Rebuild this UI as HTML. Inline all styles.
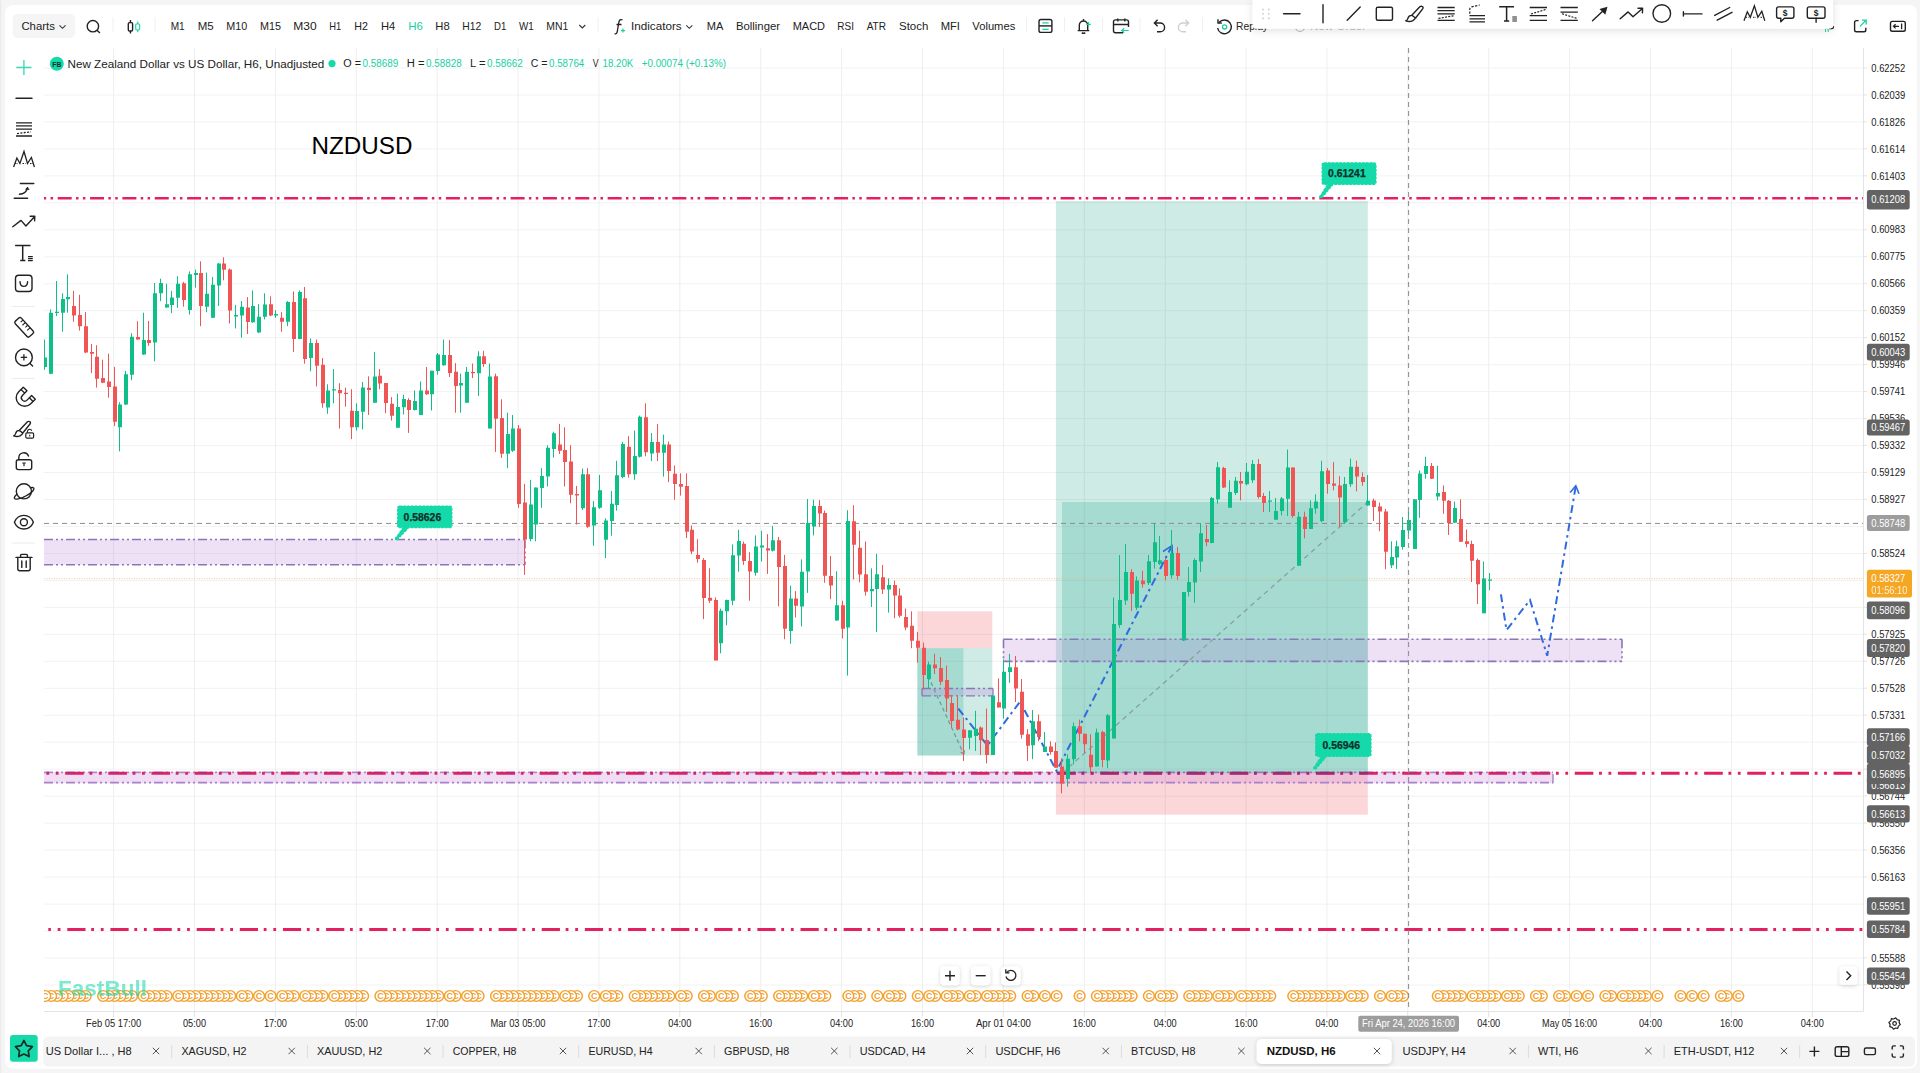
<!DOCTYPE html>
<html lang="en"><head><meta charset="utf-8"><title>NZDUSD, H6 - Charts</title>
<style>
html,body{margin:0;padding:0;background:#f5f5f5;}
body{width:1920px;height:1073px;overflow:hidden;font-family:"Liberation Sans",Arial,sans-serif;}
svg{display:block;position:absolute;left:0;top:0;}
text{white-space:pre;}
</style></head><body>
<svg width="1920" height="1073" viewBox="0 0 1920 1073" font-family='"Liberation Sans", Arial, sans-serif'>
<defs>
<filter id="sh" x="-20%" y="-20%" width="140%" height="160%"><feDropShadow dx="0" dy="1" stdDeviation="2" flood-color="#000" flood-opacity="0.18"/></filter>
<filter id="sh2" x="-5%" y="-30%" width="110%" height="200%"><feDropShadow dx="0" dy="2" stdDeviation="4" flood-color="#000" flood-opacity="0.12"/></filter>
<clipPath id="cc"><rect x="44" y="48" width="1819.5" height="963"/></clipPath>
</defs>
<rect width="1920" height="1073" fill="#f5f5f5"/>
<rect x="0" y="0" width="1.2" height="1073" fill="#ebebeb"/>
<rect x="5" y="5" width="1912" height="1063.7" rx="8" fill="#fff"/>
<g clip-path="url(#cc)">
<line x1="44" x2="1863" y1="68.0" y2="68.0" stroke="#f2f2f2" stroke-width="1"/>
<line x1="44" x2="1863" y1="95.0" y2="95.0" stroke="#f2f2f2" stroke-width="1"/>
<line x1="44" x2="1863" y1="121.9" y2="121.9" stroke="#f2f2f2" stroke-width="1"/>
<line x1="44" x2="1863" y1="148.9" y2="148.9" stroke="#f2f2f2" stroke-width="1"/>
<line x1="44" x2="1863" y1="175.9" y2="175.9" stroke="#f2f2f2" stroke-width="1"/>
<line x1="44" x2="1863" y1="202.8" y2="202.8" stroke="#f2f2f2" stroke-width="1"/>
<line x1="44" x2="1863" y1="229.8" y2="229.8" stroke="#f2f2f2" stroke-width="1"/>
<line x1="44" x2="1863" y1="256.8" y2="256.8" stroke="#f2f2f2" stroke-width="1"/>
<line x1="44" x2="1863" y1="283.8" y2="283.8" stroke="#f2f2f2" stroke-width="1"/>
<line x1="44" x2="1863" y1="310.7" y2="310.7" stroke="#f2f2f2" stroke-width="1"/>
<line x1="44" x2="1863" y1="337.7" y2="337.7" stroke="#f2f2f2" stroke-width="1"/>
<line x1="44" x2="1863" y1="364.7" y2="364.7" stroke="#f2f2f2" stroke-width="1"/>
<line x1="44" x2="1863" y1="391.6" y2="391.6" stroke="#f2f2f2" stroke-width="1"/>
<line x1="44" x2="1863" y1="418.6" y2="418.6" stroke="#f2f2f2" stroke-width="1"/>
<line x1="44" x2="1863" y1="445.6" y2="445.6" stroke="#f2f2f2" stroke-width="1"/>
<line x1="44" x2="1863" y1="472.5" y2="472.5" stroke="#f2f2f2" stroke-width="1"/>
<line x1="44" x2="1863" y1="499.5" y2="499.5" stroke="#f2f2f2" stroke-width="1"/>
<line x1="44" x2="1863" y1="526.5" y2="526.5" stroke="#f2f2f2" stroke-width="1"/>
<line x1="44" x2="1863" y1="553.5" y2="553.5" stroke="#f2f2f2" stroke-width="1"/>
<line x1="44" x2="1863" y1="580.4" y2="580.4" stroke="#f2f2f2" stroke-width="1"/>
<line x1="44" x2="1863" y1="607.4" y2="607.4" stroke="#f2f2f2" stroke-width="1"/>
<line x1="44" x2="1863" y1="634.4" y2="634.4" stroke="#f2f2f2" stroke-width="1"/>
<line x1="44" x2="1863" y1="661.3" y2="661.3" stroke="#f2f2f2" stroke-width="1"/>
<line x1="44" x2="1863" y1="688.3" y2="688.3" stroke="#f2f2f2" stroke-width="1"/>
<line x1="44" x2="1863" y1="715.3" y2="715.3" stroke="#f2f2f2" stroke-width="1"/>
<line x1="44" x2="1863" y1="742.2" y2="742.2" stroke="#f2f2f2" stroke-width="1"/>
<line x1="44" x2="1863" y1="769.2" y2="769.2" stroke="#f2f2f2" stroke-width="1"/>
<line x1="44" x2="1863" y1="796.2" y2="796.2" stroke="#f2f2f2" stroke-width="1"/>
<line x1="44" x2="1863" y1="823.2" y2="823.2" stroke="#f2f2f2" stroke-width="1"/>
<line x1="44" x2="1863" y1="850.1" y2="850.1" stroke="#f2f2f2" stroke-width="1"/>
<line x1="44" x2="1863" y1="877.1" y2="877.1" stroke="#f2f2f2" stroke-width="1"/>
<line x1="44" x2="1863" y1="904.1" y2="904.1" stroke="#f2f2f2" stroke-width="1"/>
<line x1="44" x2="1863" y1="931.0" y2="931.0" stroke="#f2f2f2" stroke-width="1"/>
<line x1="44" x2="1863" y1="958.0" y2="958.0" stroke="#f2f2f2" stroke-width="1"/>
<line x1="44" x2="1863" y1="985.0" y2="985.0" stroke="#f2f2f2" stroke-width="1"/>
<line x1="44" x2="1863" y1="1011.9" y2="1011.9" stroke="#f2f2f2" stroke-width="1"/>
<line x1="113.6" x2="113.6" y1="48" y2="1011" stroke="#eeeeee" stroke-width="1"/>
<line x1="194.5" x2="194.5" y1="48" y2="1011" stroke="#eeeeee" stroke-width="1"/>
<line x1="275.4" x2="275.4" y1="48" y2="1011" stroke="#eeeeee" stroke-width="1"/>
<line x1="356.3" x2="356.3" y1="48" y2="1011" stroke="#eeeeee" stroke-width="1"/>
<line x1="437.2" x2="437.2" y1="48" y2="1011" stroke="#eeeeee" stroke-width="1"/>
<line x1="518.0" x2="518.0" y1="48" y2="1011" stroke="#eeeeee" stroke-width="1"/>
<line x1="598.9" x2="598.9" y1="48" y2="1011" stroke="#eeeeee" stroke-width="1"/>
<line x1="679.8" x2="679.8" y1="48" y2="1011" stroke="#eeeeee" stroke-width="1"/>
<line x1="760.7" x2="760.7" y1="48" y2="1011" stroke="#eeeeee" stroke-width="1"/>
<line x1="841.6" x2="841.6" y1="48" y2="1011" stroke="#eeeeee" stroke-width="1"/>
<line x1="922.5" x2="922.5" y1="48" y2="1011" stroke="#eeeeee" stroke-width="1"/>
<line x1="1003.4" x2="1003.4" y1="48" y2="1011" stroke="#eeeeee" stroke-width="1"/>
<line x1="1084.3" x2="1084.3" y1="48" y2="1011" stroke="#eeeeee" stroke-width="1"/>
<line x1="1165.2" x2="1165.2" y1="48" y2="1011" stroke="#eeeeee" stroke-width="1"/>
<line x1="1246.1" x2="1246.1" y1="48" y2="1011" stroke="#eeeeee" stroke-width="1"/>
<line x1="1326.9" x2="1326.9" y1="48" y2="1011" stroke="#eeeeee" stroke-width="1"/>
<line x1="1407.8" x2="1407.8" y1="48" y2="1011" stroke="#eeeeee" stroke-width="1"/>
<line x1="1488.7" x2="1488.7" y1="48" y2="1011" stroke="#eeeeee" stroke-width="1"/>
<line x1="1569.6" x2="1569.6" y1="48" y2="1011" stroke="#eeeeee" stroke-width="1"/>
<line x1="1650.5" x2="1650.5" y1="48" y2="1011" stroke="#eeeeee" stroke-width="1"/>
<line x1="1731.4" x2="1731.4" y1="48" y2="1011" stroke="#eeeeee" stroke-width="1"/>
<line x1="1812.3" x2="1812.3" y1="48" y2="1011" stroke="#eeeeee" stroke-width="1"/>
<rect x="1055.9" y="201" width="311.9" height="572.3" fill="rgba(8,153,129,0.2)"/>
<rect x="1062" y="502" width="305.8" height="271.3" fill="rgba(8,153,129,0.2)"/>
<rect x="1055.9" y="773.3" width="311.9" height="41.4" fill="rgba(242,54,69,0.2)"/>
<rect x="917.4" y="611.3" width="74.9" height="36.9" fill="rgba(242,54,69,0.2)"/>
<rect x="917.4" y="648.2" width="74.9" height="107.3" fill="rgba(8,153,129,0.2)"/>
<rect x="917.4" y="648.2" width="46" height="107.3" fill="rgba(8,153,129,0.2)"/>
<rect x="44" y="539.5" width="481.0" height="25.3" fill="rgba(178,120,214,0.22)"/>
<path d="M44 539.5H525M44 564.8H525M525 539.5V564.8" stroke="#8b76b8" stroke-width="1.6" fill="none" stroke-dasharray="9 3 2 3 2 3"/>
<rect x="1003.5" y="639.2" width="618.5" height="22.2" fill="rgba(178,120,214,0.22)"/>
<path d="M1003.5 639.2H1622M1003.5 661.4H1622M1003.5 639.2V661.4M1622 639.2V661.4" stroke="#8b76b8" stroke-width="1.6" fill="none" stroke-dasharray="9 3 2 3 2 3"/>
<rect x="922" y="688.5" width="71.0" height="7.3" fill="rgba(178,120,214,0.22)"/>
<path d="M922 688.5H993M922 695.8H993M922 688.5V695.8M993 688.5V695.8" stroke="#8b76b8" stroke-width="1.3" fill="none" stroke-dasharray="9 3 2 3 2 3"/>
<rect x="44" y="771.8" width="1509" height="11.4" fill="rgba(200,120,210,0.25)"/>
<path d="M44 782.6H1553" stroke="#a882cc" stroke-width="1.6" fill="none" stroke-dasharray="9 3 2 3 2 3"/>
<path d="M1553 774V783.3" stroke="#9a86c0" stroke-width="1.4" fill="none"/>
<path d="M1062 773.3L1367.8 502" stroke="#86a29c" stroke-width="1.3" fill="none" stroke-dasharray="5 4"/>
<path d="M928 676L963.9 754.4M963.9 754.4l-5.5-4M963.9 754.4l0.8-6.5" stroke="#7b9892" stroke-width="1.3" fill="none" stroke-dasharray="4 3"/>
<path d="M44 198.3H1863" stroke="#e3215f" stroke-width="2.6" stroke-dasharray="14 4.3 2.5 4.4 2.5 4.65" stroke-dashoffset="18.65" fill="none"/>
<path d="M44.4 773.2H1863" stroke="#e3215f" stroke-width="3" stroke-dasharray="18.6 5.7 2.8 6.6 2.8 6.63" stroke-dashoffset="22.33" fill="none"/>
<path d="M48.3 929.5H1863" stroke="#e3215f" stroke-width="3" stroke-dasharray="18.2 5.7 2.8 6.8 2.8 6.83" stroke-dashoffset="24.13" fill="none"/>
<path d="M44 772.4H1553" stroke="#7d3fa8" stroke-width="1.8" fill="none" stroke-dasharray="9 3 2 3 2 3" opacity="0.55"/>
<path d="M1056 773.3H1367.8" stroke="#4a3a7a" stroke-width="3" fill="none" stroke-dasharray="18.6 5.7 2.8 6.6 2.8 6.63" stroke-dashoffset="41.94" opacity="0.4"/>
<path d="M44 523.4H1863" stroke="#8c8c8c" stroke-width="1" stroke-dasharray="5 4" fill="none"/>
<path d="M44 578.6H1863" stroke="#f5b95a" stroke-width="1" stroke-dasharray="1 1.5" fill="none" opacity="0.7"/>
<path d="M958.3 708.6L987.4 745.5L1020 701.7L1056.6 771L1172 545.7" stroke="#2f6be0" stroke-width="2" fill="none" stroke-dasharray="8 4 2.5 4"/>
<path d="M1163 551.5L1172 545.7L1172.5 556.5" stroke="#2f6be0" stroke-width="1.6" fill="none"/>
<path d="M1500.9 594.3L1506.5 630L1530 600L1547.2 655.8L1575.8 485.8" stroke="#2f6be0" stroke-width="2" fill="none" stroke-dasharray="8 4 2.5 4"/>
<path d="M1570.2 492.5L1575.8 485.8L1579 493.7" stroke="#2f6be0" stroke-width="1.6" fill="none"/>
<path d="M44.5 339.6V369.8M50.5 309.4V374.2M56.5 281.0V316.1M62.5 293.3V331.7M67.5 274.3V312.7M119.5 402.2V451.4M125.5 370.9V405.1M131.5 333.3V380.3M143.5 312.7V354.8M154.5 283.0V361.3M160.5 278.7V301.1M166.5 283.7V307.8M171.5 290.8V313.2M177.5 276.3V307.8M189.5 271.4V314.5M195.5 269.6V287.7M206.5 272.5V312.3M212.5 277.0V317.9M218.5 263.1V306.0M235.5 304.9V328.4M241.5 301.1V337.8M252.5 290.4V322.8M258.5 304.2V332.9M264.5 293.3V319.4M275.5 310.1V317.9M287.5 301.1V326.2M299.5 290.4V339.1M310.5 338.5V371.3M327.5 384.3V413.8M333.5 369.1V403.3M356.5 403.3V430.6M362.5 381.9V429.5M374.5 351.9V402.7M397.5 393.7V427.7M403.5 394.8V414.5M414.5 390.4V410.5M420.5 381.4V415.0M431.5 370.7V410.5M437.5 353.0V374.7M443.5 339.6V365.8M460.5 373.6V412.7M466.5 366.9V402.7M478.5 351.2V396.0M489.5 363.5V428.4M507.5 412.7V468.2M512.5 415.0V451.9M530.5 479.8V541.3M535.5 487.6V541.3M541.5 468.2V507.8M547.5 445.2V486.5M553.5 431.7V457.5M582.5 468.6V510.0M593.5 501.1V545.8M599.5 474.9V508.9M605.5 518.3V558.1M611.5 491.0V535.7M616.5 460.8V510.7M622.5 441.8V478.3M634.5 430.6V479.8M639.5 415.6V457.5M651.5 433.0V461.0M663.5 434.6V476.6M720.5 608.6V653.3M726.5 599.6V625.3M732.5 544.4V605.2M738.5 529.8V571.7M755.5 535.4V575.7M761.5 530.7V561.6M772.5 525.8V551.5M790.5 585.7V643.7M801.5 559.4V626.4M807.5 499.0V592.9M813.5 499.7V535.4M836.5 571.2V620.8M847.5 510.2V675.6M871.5 568.3V607.0M876.5 553.8V632.0M888.5 578.4V612.6M928.5 661.6V688.5M969.5 730.3V749.3M975.5 710.8V751.0M992.5 695.2V754.9M1003.5 659.4V718.6M1009.5 653.8V682.9M1032.5 710.0V759.2M1044.5 732.0V752.0M1067.5 754.3V786.7M1073.5 722.5V764.4M1096.5 728.6V766.6M1107.5 714.0V768.2M1113.5 597.6V738.6M1119.5 555.0V627.8M1125.5 544.0V605.0M1136.5 576.4V610.0M1148.5 555.0V585.0M1154.5 523.2V568.6M1159.5 536.0V565.0M1171.5 530.0V578.6M1183.5 592.0V641.0M1188.5 567.0V596.5M1194.5 558.5V602.8M1200.5 523.2V572.0M1211.5 497.0V543.3M1217.5 462.0V503.7M1229.5 480.3V508.0M1235.5 477.0V495.0M1246.5 463.0V485.4M1252.5 460.0V483.0M1269.5 491.0V512.0M1275.5 498.0V519.8M1281.5 497.0V515.4M1287.5 449.6V516.0M1298.5 512.0V565.7M1310.5 500.4V529.0M1315.5 494.3V513.8M1321.5 460.8V522.3M1344.5 477.0V523.9M1350.5 458.6V487.0M1367.5 475.0V505.5M1391.5 541.3V568.0M1396.5 540.6V569.0M1402.5 517.0V549.6M1408.5 512.0V534.0M1414.5 499.3V549.0M1419.5 470.6V517.8M1425.5 456.8V478.7M1437.5 465.7V500.4M1454.5 501.5V523.0M1483.5 561.4V613.3M1489.5 573.0V590.3" stroke="#10bf87" stroke-width="1" fill="none"/>
<path d="M73.5 290.8V321.7M79.5 294.8V330.6M85.5 312.1V353.0M91.5 344.0V373.1M96.5 345.2V387.6M102.5 359.7V383.2M108.5 353.7V397.7M114.5 366.9V426.1M137.5 321.2V339.6M148.5 321.0V345.8M183.5 281.9V306.7M200.5 261.3V326.2M223.5 257.3V280.3M229.5 268.5V323.5M247.5 297.1V334.0M270.5 296.4V316.1M281.5 312.1V331.7M293.5 291.5V351.9M304.5 287.0V363.7M316.5 339.6V386.5M322.5 358.1V407.8M339.5 383.2V428.6M345.5 387.6V406.7M351.5 389.2V439.1M368.5 376.3V415.0M379.5 369.1V389.3M385.5 383.0V413.2M391.5 397.1V420.6M408.5 398.2V432.9M426.5 366.9V394.8M449.5 340.1V377.0M455.5 363.1V412.7M472.5 363.5V378.1M483.5 350.8V366.9M495.5 373.6V451.9M501.5 399.3V457.9M518.5 425.0V507.8M524.5 483.8V574.9M559.5 423.9V454.1M564.5 427.3V486.5M570.5 445.2V503.3M576.5 485.9V524.5M587.5 468.2V527.9M628.5 436.2V477.6M645.5 403.3V456.3M657.5 424.1V461.0M668.5 441.5V482.2M674.5 465.4V499.7M680.5 473.3V495.6M686.5 473.3V538.1M691.5 525.4V554.2M697.5 539.2V562.7M703.5 558.2V619.1M709.5 568.3V603.0M715.5 597.4V660.4M743.5 541.5V564.9M749.5 552.2V600.7M767.5 534.1V573.9M778.5 537.0V606.3M784.5 554.9V639.2M795.5 591.1V617.5M819.5 500.1V526.9M824.5 510.6V582.8M830.5 556.0V599.2M842.5 600.7V638.5M853.5 505.2V579.5M859.5 530.7V582.4M865.5 541.5V595.6M882.5 564.9V594.0M894.5 580.6V618.2M899.5 588.4V617.5M905.5 608.6V630.2M911.5 611.3V648.2M917.5 631.9V662.7M923.5 642.6V689.6M934.5 653.8V674.0M940.5 657.0V685.0M946.5 665.6V712.0M951.5 695.0V727.6M957.5 696.3V730.3M963.5 717.5V761.0M980.5 726.5V755.0M986.5 708.6V763.4M998.5 678.4V707.5M1015.5 656.0V702.0M1021.5 679.0V738.6M1027.5 729.2V761.0M1038.5 714.5V741.3M1050.5 741.3V754.7M1055.5 742.4V767.7M1061.5 758.3V793.4M1079.5 719.6V741.3M1084.5 733.7V753.2M1090.5 734.2V774.4M1102.5 730.8V767.3M1131.5 569.0V611.0M1142.5 570.8V587.6M1165.5 558.5V580.4M1177.5 547.0V579.8M1206.5 525.0V546.2M1223.5 466.8V488.0M1240.5 472.0V500.4M1258.5 459.0V498.6M1263.5 493.0V512.0M1292.5 467.5V517.8M1304.5 511.6V538.4M1327.5 468.0V493.7M1333.5 462.0V490.3M1339.5 476.2V526.8M1356.5 460.6V491.4M1362.5 472.4V485.8M1373.5 498.6V521.0M1379.5 502.6V531.2M1385.5 508.9V569.2M1431.5 463.0V479.0M1443.5 485.4V513.8M1448.5 500.0V535.0M1460.5 499.3V542.0M1466.5 529.4V547.3M1471.5 540.6V582.0M1477.5 558.5V604.0" stroke="#f05555" stroke-width="1" fill="none"/>
<path d="M43 357.5h4v9.4h-4zM49 312.7h4v61.0h-4zM55 311.8h4v1.3h-4zM61 298.9h4v13.9h-4zM66 297.1h4v2.2h-4zM118 404.4h4v22.8h-4zM124 374.2h4v30.2h-4zM130 336.7h4v38.0h-4zM142 340.0h4v14.5h-4zM153 293.3h4v49.2h-4zM159 283.0h4v10.3h-4zM165 304.2h4v3.4h-4zM170 297.5h4v7.4h-4zM176 283.7h4v14.1h-4zM188 274.3h4v35.8h-4zM194 272.9h4v2.2h-4zM205 293.7h4v13.0h-4zM211 284.8h4v32.9h-4zM217 263.5h4v21.9h-4zM234 315.0h4v1.6h-4zM240 306.7h4v8.9h-4zM251 306.0h4v16.3h-4zM257 316.8h4v15.7h-4zM263 304.5h4v12.3h-4zM274 313.9h4v1.6h-4zM286 302.0h4v19.7h-4zM298 291.9h4v47.0h-4zM309 342.9h4v15.0h-4zM326 390.6h4v16.8h-4zM332 389.2h4v1.3h-4zM355 411.1h4v16.1h-4zM361 387.5h4v24.2h-4zM373 376.5h4v26.2h-4zM396 407.1h4v20.6h-4zM402 398.9h4v8.3h-4zM413 401.1h4v8.9h-4zM419 390.4h4v24.6h-4zM430 370.7h4v23.5h-4zM436 354.6h4v16.3h-4zM442 355.0h4v10.3h-4zM459 383.0h4v2.5h-4zM465 371.8h4v30.9h-4zM477 356.2h4v17.0h-4zM488 376.5h4v51.9h-4zM506 434.0h4v19.7h-4zM511 428.4h4v22.4h-4zM529 504.4h4v34.7h-4zM534 487.6h4v36.9h-4zM540 476.0h4v12.1h-4zM546 447.8h4v28.6h-4zM552 433.3h4v15.7h-4zM581 474.2h4v34.0h-4zM592 507.3h4v18.3h-4zM598 490.3h4v17.4h-4zM604 520.5h4v19.2h-4zM610 503.7h4v17.4h-4zM615 475.3h4v29.7h-4zM621 444.0h4v32.9h-4zM633 455.9h4v18.3h-4zM638 416.8h4v40.0h-4zM650 442.0h4v11.6h-4zM662 444.6h4v8.1h-4zM719 610.8h4v32.4h-4zM725 600.1h4v11.2h-4zM731 555.3h4v45.4h-4zM737 541.0h4v14.5h-4zM754 546.4h4v26.4h-4zM760 545.5h4v2.0h-4zM771 540.3h4v10.5h-4zM789 598.5h4v32.4h-4zM800 571.7h4v34.7h-4zM806 523.1h4v48.5h-4zM812 506.1h4v20.3h-4zM835 605.2h4v15.2h-4zM846 520.9h4v106.7h-4zM870 589.1h4v2.2h-4zM875 574.3h4v14.8h-4zM887 585.1h4v4.5h-4zM927 664.5h4v14.5h-4zM968 730.3h4v7.4h-4zM974 728.7h4v7.2h-4zM991 695.6h4v59.3h-4zM1002 671.7h4v36.9h-4zM1008 667.2h4v4.8h-4zM1031 721.2h4v24.1h-4zM1043 746.5h4v5.5h-4zM1066 758.8h4v20.1h-4zM1072 726.3h4v32.9h-4zM1095 732.4h4v34.2h-4zM1106 715.2h4v45.4h-4zM1112 624.0h4v114.6h-4zM1118 599.9h4v25.1h-4zM1124 572.0h4v28.5h-4zM1135 580.4h4v27.3h-4zM1147 561.2h4v21.8h-4zM1153 542.2h4v19.7h-4zM1158 560.3h4v3.7h-4zM1170 553.0h4v22.3h-4zM1182 592.0h4v48.6h-4zM1187 582.0h4v10.0h-4zM1193 560.0h4v22.4h-4zM1199 533.2h4v28.2h-4zM1210 498.0h4v45.0h-4zM1216 467.3h4v32.0h-4zM1228 492.0h4v15.8h-4zM1234 480.7h4v12.3h-4zM1245 471.8h4v12.5h-4zM1251 464.0h4v16.3h-4zM1268 500.4h4v1.4h-4zM1274 511.0h4v8.8h-4zM1280 498.6h4v12.4h-4zM1286 467.5h4v31.3h-4zM1297 516.7h4v49.0h-4zM1309 508.2h4v20.8h-4zM1314 501.5h4v7.1h-4zM1320 471.3h4v49.7h-4zM1343 484.0h4v38.3h-4zM1349 466.8h4v17.5h-4zM1366 500.8h4v4.7h-4zM1390 557.0h4v8.2h-4zM1395 546.2h4v11.2h-4zM1401 530.0h4v16.9h-4zM1407 520.0h4v10.6h-4zM1413 499.3h4v49.7h-4zM1418 473.5h4v26.5h-4zM1424 466.0h4v8.0h-4zM1436 493.0h4v3.6h-4zM1453 508.0h4v14.7h-4zM1482 578.6h4v34.7h-4zM1488 579.5h4v1.2h-4z" fill="#10bf87"/>
<path d="M72 306.0h4v9.6h-4zM78 315.0h4v11.2h-4zM84 326.2h4v26.4h-4zM90 351.9h4v1.8h-4zM95 356.8h4v21.9h-4zM101 378.0h4v4.7h-4zM107 381.4h4v5.6h-4zM113 386.5h4v35.3h-4zM136 336.9h4v2.7h-4zM147 340.0h4v2.9h-4zM182 283.2h4v16.8h-4zM199 272.9h4v33.1h-4zM222 263.5h4v6.3h-4zM228 269.6h4v40.9h-4zM246 307.6h4v14.5h-4zM269 304.2h4v11.4h-4zM280 317.7h4v4.0h-4zM292 302.0h4v36.9h-4zM303 298.2h4v60.8h-4zM315 342.9h4v22.8h-4zM321 364.8h4v38.5h-4zM338 389.9h4v3.4h-4zM344 392.8h4v1.2h-4zM350 410.7h4v16.5h-4zM367 387.7h4v2.2h-4zM378 375.8h4v7.8h-4zM384 383.0h4v20.1h-4zM390 403.8h4v11.9h-4zM407 400.0h4v10.1h-4zM425 390.4h4v3.8h-4zM448 355.0h4v17.9h-4zM454 371.8h4v14.1h-4zM471 372.0h4v1.2h-4zM482 356.2h4v7.8h-4zM494 376.3h4v42.5h-4zM500 417.9h4v35.8h-4zM517 428.4h4v75.6h-4zM523 502.6h4v36.9h-4zM558 444.5h4v6.3h-4zM563 450.1h4v11.9h-4zM569 461.5h4v33.3h-4zM575 493.9h4v1.6h-4zM586 474.2h4v52.5h-4zM627 446.7h4v27.5h-4zM644 417.2h4v35.1h-4zM656 442.0h4v10.7h-4zM667 444.6h4v26.4h-4zM673 473.7h4v10.3h-4zM679 484.0h4v2.7h-4zM685 486.0h4v45.8h-4zM690 529.8h4v21.7h-4zM696 554.9h4v4.0h-4zM702 560.0h4v38.0h-4zM708 597.8h4v2.9h-4zM714 600.1h4v60.4h-4zM742 543.7h4v17.4h-4zM748 560.9h4v10.7h-4zM766 548.2h4v2.2h-4zM777 540.3h4v26.8h-4zM783 566.1h4v62.6h-4zM794 598.5h4v7.2h-4zM818 506.1h4v7.4h-4zM823 513.1h4v62.6h-4zM829 576.1h4v9.4h-4zM841 605.2h4v23.5h-4zM852 521.3h4v23.5h-4zM858 547.7h4v26.8h-4zM864 574.3h4v17.4h-4zM881 577.2h4v12.3h-4zM893 585.1h4v10.5h-4zM898 595.6h4v20.1h-4zM904 617.0h4v10.5h-4zM910 625.8h4v15.0h-4zM916 640.8h4v7.0h-4zM922 647.8h4v27.2h-4zM933 664.5h4v3.8h-4zM939 667.9h4v13.8h-4zM945 680.0h4v18.5h-4zM950 703.0h4v17.9h-4zM956 719.8h4v9.6h-4zM962 729.4h4v8.6h-4zM979 727.6h4v12.7h-4zM985 739.9h4v15.1h-4zM997 702.3h4v5.2h-4zM1014 667.2h4v21.3h-4zM1020 691.7h4v43.1h-4zM1026 734.2h4v11.6h-4zM1037 721.2h4v15.7h-4zM1049 746.5h4v5.5h-4zM1054 751.0h4v16.7h-4zM1060 766.6h4v16.8h-4zM1078 726.3h4v7.4h-4zM1083 733.7h4v10.5h-4zM1089 754.7h4v12.6h-4zM1101 732.0h4v27.9h-4zM1130 572.0h4v21.8h-4zM1141 580.4h4v3.8h-4zM1164 560.0h4v16.0h-4zM1176 553.0h4v23.0h-4zM1205 539.0h4v3.2h-4zM1222 468.0h4v19.6h-4zM1239 481.0h4v2.6h-4zM1257 464.0h4v33.0h-4zM1262 496.0h4v7.0h-4zM1291 467.5h4v48.5h-4zM1303 516.7h4v12.3h-4zM1326 470.6h4v13.4h-4zM1332 483.6h4v2.2h-4zM1338 485.4h4v12.1h-4zM1355 466.8h4v9.6h-4zM1361 476.9h4v5.1h-4zM1372 500.4h4v6.6h-4zM1378 506.6h4v5.0h-4zM1384 511.6h4v40.2h-4zM1430 466.0h4v12.7h-4zM1442 492.0h4v8.8h-4zM1447 500.8h4v22.2h-4zM1459 519.0h4v22.7h-4zM1465 541.3h4v2.7h-4zM1470 544.0h4v16.7h-4zM1476 560.0h4v24.2h-4z" fill="#f05555"/>
<text x="311.5" y="153.7" font-size="24" fill="#000" font-weight="normal" text-anchor="start" textLength="101.0" lengthAdjust="spacingAndGlyphs" >NZDUSD</text>
<path d="M1324.1 162.79999999999998H1374.0Q1376.0 162.79999999999998 1376.0 164.79999999999998V182.4Q1376.0 184.4 1374.0 184.4H1333.1L1321.9 197.6L1319.9 196.4L1327.6 184.4H1324.1Q1322.1 184.4 1322.1 182.4V164.79999999999998Q1322.1 162.79999999999998 1324.1 162.79999999999998Z" fill="#14d9a8" stroke="#14d9a8" stroke-width="1.2" stroke-dasharray="2.6 1.2" stroke-linejoin="round"/>
<rect x="1319.5" y="195.4" width="2.6" height="2.6" fill="#14d9a8"/>
<text x="1328.1" y="177.2" font-size="10.5" fill="#0f2e2a" font-weight="bold" text-anchor="start" textLength="37.6" lengthAdjust="spacingAndGlyphs" stroke="#0f2e2a" stroke-width="0.25">0.61241</text>
<path d="M399.6 506.1H449.9Q451.9 506.1 451.9 508.1V525.6999999999999Q451.9 527.6999999999999 449.9 527.6999999999999H408.6L397.4 539.6L395.4 538.4L403.1 527.6999999999999H399.6Q397.6 527.6999999999999 397.6 525.6999999999999V508.1Q397.6 506.1 399.6 506.1Z" fill="#14d9a8" stroke="#14d9a8" stroke-width="1.2" stroke-dasharray="2.6 1.2" stroke-linejoin="round"/>
<rect x="395" y="537.4" width="2.6" height="2.6" fill="#14d9a8"/>
<text x="403.6" y="520.5" font-size="10.5" fill="#0f2e2a" font-weight="bold" text-anchor="start" textLength="37.6" lengthAdjust="spacingAndGlyphs" stroke="#0f2e2a" stroke-width="0.25">0.58626</text>
<path d="M1317.6 733.5H1369.0Q1371.0 733.5 1371.0 735.5V754.4Q1371.0 756.4 1369.0 756.4H1326.6L1315.8000000000002 769.0L1313.8000000000002 767.8L1321.1 756.4H1317.6Q1315.6 756.4 1315.6 754.4V735.5Q1315.6 733.5 1317.6 733.5Z" fill="#14d9a8" stroke="#14d9a8" stroke-width="1.2" stroke-dasharray="2.6 1.2" stroke-linejoin="round"/>
<rect x="1313.4" y="766.8" width="2.6" height="2.6" fill="#14d9a8"/>
<text x="1322.5" y="748.6" font-size="10.5" fill="#0f2e2a" font-weight="bold" text-anchor="start" textLength="37.6" lengthAdjust="spacingAndGlyphs" stroke="#0f2e2a" stroke-width="0.25">0.56946</text>
<g font-size="9" font-weight="bold" text-anchor="middle" fill="#f3a02c">
<circle cx="1738.3" cy="996" r="5.4" fill="#fff" stroke="#f3a02c" stroke-width="1.45"/><text x="1738.3" y="999.2">C</text>
<circle cx="1726.7" cy="996" r="5.4" fill="#fff" stroke="#f3a02c" stroke-width="1.45"/><text x="1726.7" y="999.2">C</text>
<circle cx="1720.9" cy="996" r="5.4" fill="#fff" stroke="#f3a02c" stroke-width="1.45"/><text x="1720.9" y="999.2">C</text>
<circle cx="1703.6" cy="996" r="5.4" fill="#fff" stroke="#f3a02c" stroke-width="1.45"/><text x="1703.6" y="999.2">C</text>
<circle cx="1692.0" cy="996" r="5.4" fill="#fff" stroke="#f3a02c" stroke-width="1.45"/><text x="1692.0" y="999.2">C</text>
<circle cx="1680.5" cy="996" r="5.4" fill="#fff" stroke="#f3a02c" stroke-width="1.45"/><text x="1680.5" y="999.2">C</text>
<circle cx="1657.4" cy="996" r="5.4" fill="#fff" stroke="#f3a02c" stroke-width="1.45"/><text x="1657.4" y="999.2">C</text>
<circle cx="1645.8" cy="996" r="5.4" fill="#fff" stroke="#f3a02c" stroke-width="1.45"/><text x="1645.8" y="999.2">C</text>
<circle cx="1640.0" cy="996" r="5.4" fill="#fff" stroke="#f3a02c" stroke-width="1.45"/><text x="1640.0" y="999.2">C</text>
<circle cx="1634.2" cy="996" r="5.4" fill="#fff" stroke="#f3a02c" stroke-width="1.45"/><text x="1634.2" y="999.2">C</text>
<circle cx="1628.5" cy="996" r="5.4" fill="#fff" stroke="#f3a02c" stroke-width="1.45"/><text x="1628.5" y="999.2">C</text>
<circle cx="1622.7" cy="996" r="5.4" fill="#fff" stroke="#f3a02c" stroke-width="1.45"/><text x="1622.7" y="999.2">C</text>
<circle cx="1611.1" cy="996" r="5.4" fill="#fff" stroke="#f3a02c" stroke-width="1.45"/><text x="1611.1" y="999.2">C</text>
<circle cx="1605.4" cy="996" r="5.4" fill="#fff" stroke="#f3a02c" stroke-width="1.45"/><text x="1605.4" y="999.2">C</text>
<circle cx="1588.0" cy="996" r="5.4" fill="#fff" stroke="#f3a02c" stroke-width="1.45"/><text x="1588.0" y="999.2">C</text>
<circle cx="1576.5" cy="996" r="5.4" fill="#fff" stroke="#f3a02c" stroke-width="1.45"/><text x="1576.5" y="999.2">C</text>
<circle cx="1564.9" cy="996" r="5.4" fill="#fff" stroke="#f3a02c" stroke-width="1.45"/><text x="1564.9" y="999.2">C</text>
<circle cx="1559.1" cy="996" r="5.4" fill="#fff" stroke="#f3a02c" stroke-width="1.45"/><text x="1559.1" y="999.2">C</text>
<circle cx="1541.8" cy="996" r="5.4" fill="#fff" stroke="#f3a02c" stroke-width="1.45"/><text x="1541.8" y="999.2">C</text>
<circle cx="1536.0" cy="996" r="5.4" fill="#fff" stroke="#f3a02c" stroke-width="1.45"/><text x="1536.0" y="999.2">C</text>
<circle cx="1518.7" cy="996" r="5.4" fill="#fff" stroke="#f3a02c" stroke-width="1.45"/><text x="1518.7" y="999.2">C</text>
<circle cx="1512.9" cy="996" r="5.4" fill="#fff" stroke="#f3a02c" stroke-width="1.45"/><text x="1512.9" y="999.2">C</text>
<circle cx="1507.1" cy="996" r="5.4" fill="#fff" stroke="#f3a02c" stroke-width="1.45"/><text x="1507.1" y="999.2">C</text>
<circle cx="1495.6" cy="996" r="5.4" fill="#fff" stroke="#f3a02c" stroke-width="1.45"/><text x="1495.6" y="999.2">C</text>
<circle cx="1489.8" cy="996" r="5.4" fill="#fff" stroke="#f3a02c" stroke-width="1.45"/><text x="1489.8" y="999.2">C</text>
<circle cx="1484.0" cy="996" r="5.4" fill="#fff" stroke="#f3a02c" stroke-width="1.45"/><text x="1484.0" y="999.2">C</text>
<circle cx="1478.2" cy="996" r="5.4" fill="#fff" stroke="#f3a02c" stroke-width="1.45"/><text x="1478.2" y="999.2">C</text>
<circle cx="1472.5" cy="996" r="5.4" fill="#fff" stroke="#f3a02c" stroke-width="1.45"/><text x="1472.5" y="999.2">C</text>
<circle cx="1460.9" cy="996" r="5.4" fill="#fff" stroke="#f3a02c" stroke-width="1.45"/><text x="1460.9" y="999.2">C</text>
<circle cx="1455.1" cy="996" r="5.4" fill="#fff" stroke="#f3a02c" stroke-width="1.45"/><text x="1455.1" y="999.2">C</text>
<circle cx="1449.4" cy="996" r="5.4" fill="#fff" stroke="#f3a02c" stroke-width="1.45"/><text x="1449.4" y="999.2">C</text>
<circle cx="1443.6" cy="996" r="5.4" fill="#fff" stroke="#f3a02c" stroke-width="1.45"/><text x="1443.6" y="999.2">C</text>
<circle cx="1437.8" cy="996" r="5.4" fill="#fff" stroke="#f3a02c" stroke-width="1.45"/><text x="1437.8" y="999.2">C</text>
<circle cx="1403.1" cy="996" r="5.4" fill="#fff" stroke="#f3a02c" stroke-width="1.45"/><text x="1403.1" y="999.2">C</text>
<circle cx="1397.4" cy="996" r="5.4" fill="#fff" stroke="#f3a02c" stroke-width="1.45"/><text x="1397.4" y="999.2">C</text>
<circle cx="1391.6" cy="996" r="5.4" fill="#fff" stroke="#f3a02c" stroke-width="1.45"/><text x="1391.6" y="999.2">C</text>
<circle cx="1380.0" cy="996" r="5.4" fill="#fff" stroke="#f3a02c" stroke-width="1.45"/><text x="1380.0" y="999.2">C</text>
<circle cx="1362.7" cy="996" r="5.4" fill="#fff" stroke="#f3a02c" stroke-width="1.45"/><text x="1362.7" y="999.2">C</text>
<circle cx="1356.9" cy="996" r="5.4" fill="#fff" stroke="#f3a02c" stroke-width="1.45"/><text x="1356.9" y="999.2">C</text>
<circle cx="1351.1" cy="996" r="5.4" fill="#fff" stroke="#f3a02c" stroke-width="1.45"/><text x="1351.1" y="999.2">C</text>
<circle cx="1339.6" cy="996" r="5.4" fill="#fff" stroke="#f3a02c" stroke-width="1.45"/><text x="1339.6" y="999.2">C</text>
<circle cx="1333.8" cy="996" r="5.4" fill="#fff" stroke="#f3a02c" stroke-width="1.45"/><text x="1333.8" y="999.2">C</text>
<circle cx="1328.0" cy="996" r="5.4" fill="#fff" stroke="#f3a02c" stroke-width="1.45"/><text x="1328.0" y="999.2">C</text>
<circle cx="1322.2" cy="996" r="5.4" fill="#fff" stroke="#f3a02c" stroke-width="1.45"/><text x="1322.2" y="999.2">C</text>
<circle cx="1316.5" cy="996" r="5.4" fill="#fff" stroke="#f3a02c" stroke-width="1.45"/><text x="1316.5" y="999.2">C</text>
<circle cx="1310.7" cy="996" r="5.4" fill="#fff" stroke="#f3a02c" stroke-width="1.45"/><text x="1310.7" y="999.2">C</text>
<circle cx="1304.9" cy="996" r="5.4" fill="#fff" stroke="#f3a02c" stroke-width="1.45"/><text x="1304.9" y="999.2">C</text>
<circle cx="1299.1" cy="996" r="5.4" fill="#fff" stroke="#f3a02c" stroke-width="1.45"/><text x="1299.1" y="999.2">C</text>
<circle cx="1293.3" cy="996" r="5.4" fill="#fff" stroke="#f3a02c" stroke-width="1.45"/><text x="1293.3" y="999.2">C</text>
<circle cx="1270.2" cy="996" r="5.4" fill="#fff" stroke="#f3a02c" stroke-width="1.45"/><text x="1270.2" y="999.2">C</text>
<circle cx="1264.5" cy="996" r="5.4" fill="#fff" stroke="#f3a02c" stroke-width="1.45"/><text x="1264.5" y="999.2">C</text>
<circle cx="1258.7" cy="996" r="5.4" fill="#fff" stroke="#f3a02c" stroke-width="1.45"/><text x="1258.7" y="999.2">C</text>
<circle cx="1252.9" cy="996" r="5.4" fill="#fff" stroke="#f3a02c" stroke-width="1.45"/><text x="1252.9" y="999.2">C</text>
<circle cx="1247.1" cy="996" r="5.4" fill="#fff" stroke="#f3a02c" stroke-width="1.45"/><text x="1247.1" y="999.2">C</text>
<circle cx="1241.3" cy="996" r="5.4" fill="#fff" stroke="#f3a02c" stroke-width="1.45"/><text x="1241.3" y="999.2">C</text>
<circle cx="1229.8" cy="996" r="5.4" fill="#fff" stroke="#f3a02c" stroke-width="1.45"/><text x="1229.8" y="999.2">C</text>
<circle cx="1224.0" cy="996" r="5.4" fill="#fff" stroke="#f3a02c" stroke-width="1.45"/><text x="1224.0" y="999.2">C</text>
<circle cx="1218.2" cy="996" r="5.4" fill="#fff" stroke="#f3a02c" stroke-width="1.45"/><text x="1218.2" y="999.2">C</text>
<circle cx="1206.7" cy="996" r="5.4" fill="#fff" stroke="#f3a02c" stroke-width="1.45"/><text x="1206.7" y="999.2">C</text>
<circle cx="1200.9" cy="996" r="5.4" fill="#fff" stroke="#f3a02c" stroke-width="1.45"/><text x="1200.9" y="999.2">C</text>
<circle cx="1195.1" cy="996" r="5.4" fill="#fff" stroke="#f3a02c" stroke-width="1.45"/><text x="1195.1" y="999.2">C</text>
<circle cx="1189.3" cy="996" r="5.4" fill="#fff" stroke="#f3a02c" stroke-width="1.45"/><text x="1189.3" y="999.2">C</text>
<circle cx="1172.0" cy="996" r="5.4" fill="#fff" stroke="#f3a02c" stroke-width="1.45"/><text x="1172.0" y="999.2">C</text>
<circle cx="1166.2" cy="996" r="5.4" fill="#fff" stroke="#f3a02c" stroke-width="1.45"/><text x="1166.2" y="999.2">C</text>
<circle cx="1160.5" cy="996" r="5.4" fill="#fff" stroke="#f3a02c" stroke-width="1.45"/><text x="1160.5" y="999.2">C</text>
<circle cx="1148.9" cy="996" r="5.4" fill="#fff" stroke="#f3a02c" stroke-width="1.45"/><text x="1148.9" y="999.2">C</text>
<circle cx="1131.6" cy="996" r="5.4" fill="#fff" stroke="#f3a02c" stroke-width="1.45"/><text x="1131.6" y="999.2">C</text>
<circle cx="1125.8" cy="996" r="5.4" fill="#fff" stroke="#f3a02c" stroke-width="1.45"/><text x="1125.8" y="999.2">C</text>
<circle cx="1120.0" cy="996" r="5.4" fill="#fff" stroke="#f3a02c" stroke-width="1.45"/><text x="1120.0" y="999.2">C</text>
<circle cx="1114.2" cy="996" r="5.4" fill="#fff" stroke="#f3a02c" stroke-width="1.45"/><text x="1114.2" y="999.2">C</text>
<circle cx="1108.5" cy="996" r="5.4" fill="#fff" stroke="#f3a02c" stroke-width="1.45"/><text x="1108.5" y="999.2">C</text>
<circle cx="1102.7" cy="996" r="5.4" fill="#fff" stroke="#f3a02c" stroke-width="1.45"/><text x="1102.7" y="999.2">C</text>
<circle cx="1096.9" cy="996" r="5.4" fill="#fff" stroke="#f3a02c" stroke-width="1.45"/><text x="1096.9" y="999.2">C</text>
<circle cx="1079.6" cy="996" r="5.4" fill="#fff" stroke="#f3a02c" stroke-width="1.45"/><text x="1079.6" y="999.2">C</text>
<circle cx="1056.5" cy="996" r="5.4" fill="#fff" stroke="#f3a02c" stroke-width="1.45"/><text x="1056.5" y="999.2">C</text>
<circle cx="1044.9" cy="996" r="5.4" fill="#fff" stroke="#f3a02c" stroke-width="1.45"/><text x="1044.9" y="999.2">C</text>
<circle cx="1033.3" cy="996" r="5.4" fill="#fff" stroke="#f3a02c" stroke-width="1.45"/><text x="1033.3" y="999.2">C</text>
<circle cx="1027.6" cy="996" r="5.4" fill="#fff" stroke="#f3a02c" stroke-width="1.45"/><text x="1027.6" y="999.2">C</text>
<circle cx="1010.2" cy="996" r="5.4" fill="#fff" stroke="#f3a02c" stroke-width="1.45"/><text x="1010.2" y="999.2">C</text>
<circle cx="1004.4" cy="996" r="5.4" fill="#fff" stroke="#f3a02c" stroke-width="1.45"/><text x="1004.4" y="999.2">C</text>
<circle cx="998.7" cy="996" r="5.4" fill="#fff" stroke="#f3a02c" stroke-width="1.45"/><text x="998.7" y="999.2">C</text>
<circle cx="992.9" cy="996" r="5.4" fill="#fff" stroke="#f3a02c" stroke-width="1.45"/><text x="992.9" y="999.2">C</text>
<circle cx="987.1" cy="996" r="5.4" fill="#fff" stroke="#f3a02c" stroke-width="1.45"/><text x="987.1" y="999.2">C</text>
<circle cx="975.6" cy="996" r="5.4" fill="#fff" stroke="#f3a02c" stroke-width="1.45"/><text x="975.6" y="999.2">C</text>
<circle cx="969.8" cy="996" r="5.4" fill="#fff" stroke="#f3a02c" stroke-width="1.45"/><text x="969.8" y="999.2">C</text>
<circle cx="958.2" cy="996" r="5.4" fill="#fff" stroke="#f3a02c" stroke-width="1.45"/><text x="958.2" y="999.2">C</text>
<circle cx="952.4" cy="996" r="5.4" fill="#fff" stroke="#f3a02c" stroke-width="1.45"/><text x="952.4" y="999.2">C</text>
<circle cx="946.7" cy="996" r="5.4" fill="#fff" stroke="#f3a02c" stroke-width="1.45"/><text x="946.7" y="999.2">C</text>
<circle cx="935.1" cy="996" r="5.4" fill="#fff" stroke="#f3a02c" stroke-width="1.45"/><text x="935.1" y="999.2">C</text>
<circle cx="929.3" cy="996" r="5.4" fill="#fff" stroke="#f3a02c" stroke-width="1.45"/><text x="929.3" y="999.2">C</text>
<circle cx="917.8" cy="996" r="5.4" fill="#fff" stroke="#f3a02c" stroke-width="1.45"/><text x="917.8" y="999.2">C</text>
<circle cx="900.4" cy="996" r="5.4" fill="#fff" stroke="#f3a02c" stroke-width="1.45"/><text x="900.4" y="999.2">C</text>
<circle cx="894.7" cy="996" r="5.4" fill="#fff" stroke="#f3a02c" stroke-width="1.45"/><text x="894.7" y="999.2">C</text>
<circle cx="888.9" cy="996" r="5.4" fill="#fff" stroke="#f3a02c" stroke-width="1.45"/><text x="888.9" y="999.2">C</text>
<circle cx="877.3" cy="996" r="5.4" fill="#fff" stroke="#f3a02c" stroke-width="1.45"/><text x="877.3" y="999.2">C</text>
<circle cx="860.0" cy="996" r="5.4" fill="#fff" stroke="#f3a02c" stroke-width="1.45"/><text x="860.0" y="999.2">C</text>
<circle cx="854.2" cy="996" r="5.4" fill="#fff" stroke="#f3a02c" stroke-width="1.45"/><text x="854.2" y="999.2">C</text>
<circle cx="848.4" cy="996" r="5.4" fill="#fff" stroke="#f3a02c" stroke-width="1.45"/><text x="848.4" y="999.2">C</text>
<circle cx="825.3" cy="996" r="5.4" fill="#fff" stroke="#f3a02c" stroke-width="1.45"/><text x="825.3" y="999.2">C</text>
<circle cx="819.6" cy="996" r="5.4" fill="#fff" stroke="#f3a02c" stroke-width="1.45"/><text x="819.6" y="999.2">C</text>
<circle cx="813.8" cy="996" r="5.4" fill="#fff" stroke="#f3a02c" stroke-width="1.45"/><text x="813.8" y="999.2">C</text>
<circle cx="802.2" cy="996" r="5.4" fill="#fff" stroke="#f3a02c" stroke-width="1.45"/><text x="802.2" y="999.2">C</text>
<circle cx="796.4" cy="996" r="5.4" fill="#fff" stroke="#f3a02c" stroke-width="1.45"/><text x="796.4" y="999.2">C</text>
<circle cx="790.7" cy="996" r="5.4" fill="#fff" stroke="#f3a02c" stroke-width="1.45"/><text x="790.7" y="999.2">C</text>
<circle cx="784.9" cy="996" r="5.4" fill="#fff" stroke="#f3a02c" stroke-width="1.45"/><text x="784.9" y="999.2">C</text>
<circle cx="779.1" cy="996" r="5.4" fill="#fff" stroke="#f3a02c" stroke-width="1.45"/><text x="779.1" y="999.2">C</text>
<circle cx="761.8" cy="996" r="5.4" fill="#fff" stroke="#f3a02c" stroke-width="1.45"/><text x="761.8" y="999.2">C</text>
<circle cx="756.0" cy="996" r="5.4" fill="#fff" stroke="#f3a02c" stroke-width="1.45"/><text x="756.0" y="999.2">C</text>
<circle cx="750.2" cy="996" r="5.4" fill="#fff" stroke="#f3a02c" stroke-width="1.45"/><text x="750.2" y="999.2">C</text>
<circle cx="732.9" cy="996" r="5.4" fill="#fff" stroke="#f3a02c" stroke-width="1.45"/><text x="732.9" y="999.2">C</text>
<circle cx="727.1" cy="996" r="5.4" fill="#fff" stroke="#f3a02c" stroke-width="1.45"/><text x="727.1" y="999.2">C</text>
<circle cx="721.3" cy="996" r="5.4" fill="#fff" stroke="#f3a02c" stroke-width="1.45"/><text x="721.3" y="999.2">C</text>
<circle cx="709.8" cy="996" r="5.4" fill="#fff" stroke="#f3a02c" stroke-width="1.45"/><text x="709.8" y="999.2">C</text>
<circle cx="704.0" cy="996" r="5.4" fill="#fff" stroke="#f3a02c" stroke-width="1.45"/><text x="704.0" y="999.2">C</text>
<circle cx="686.7" cy="996" r="5.4" fill="#fff" stroke="#f3a02c" stroke-width="1.45"/><text x="686.7" y="999.2">C</text>
<circle cx="680.9" cy="996" r="5.4" fill="#fff" stroke="#f3a02c" stroke-width="1.45"/><text x="680.9" y="999.2">C</text>
<circle cx="669.3" cy="996" r="5.4" fill="#fff" stroke="#f3a02c" stroke-width="1.45"/><text x="669.3" y="999.2">C</text>
<circle cx="663.5" cy="996" r="5.4" fill="#fff" stroke="#f3a02c" stroke-width="1.45"/><text x="663.5" y="999.2">C</text>
<circle cx="657.8" cy="996" r="5.4" fill="#fff" stroke="#f3a02c" stroke-width="1.45"/><text x="657.8" y="999.2">C</text>
<circle cx="652.0" cy="996" r="5.4" fill="#fff" stroke="#f3a02c" stroke-width="1.45"/><text x="652.0" y="999.2">C</text>
<circle cx="646.2" cy="996" r="5.4" fill="#fff" stroke="#f3a02c" stroke-width="1.45"/><text x="646.2" y="999.2">C</text>
<circle cx="640.4" cy="996" r="5.4" fill="#fff" stroke="#f3a02c" stroke-width="1.45"/><text x="640.4" y="999.2">C</text>
<circle cx="634.7" cy="996" r="5.4" fill="#fff" stroke="#f3a02c" stroke-width="1.45"/><text x="634.7" y="999.2">C</text>
<circle cx="617.3" cy="996" r="5.4" fill="#fff" stroke="#f3a02c" stroke-width="1.45"/><text x="617.3" y="999.2">C</text>
<circle cx="611.5" cy="996" r="5.4" fill="#fff" stroke="#f3a02c" stroke-width="1.45"/><text x="611.5" y="999.2">C</text>
<circle cx="605.8" cy="996" r="5.4" fill="#fff" stroke="#f3a02c" stroke-width="1.45"/><text x="605.8" y="999.2">C</text>
<circle cx="594.2" cy="996" r="5.4" fill="#fff" stroke="#f3a02c" stroke-width="1.45"/><text x="594.2" y="999.2">C</text>
<circle cx="576.9" cy="996" r="5.4" fill="#fff" stroke="#f3a02c" stroke-width="1.45"/><text x="576.9" y="999.2">C</text>
<circle cx="571.1" cy="996" r="5.4" fill="#fff" stroke="#f3a02c" stroke-width="1.45"/><text x="571.1" y="999.2">C</text>
<circle cx="565.3" cy="996" r="5.4" fill="#fff" stroke="#f3a02c" stroke-width="1.45"/><text x="565.3" y="999.2">C</text>
<circle cx="553.8" cy="996" r="5.4" fill="#fff" stroke="#f3a02c" stroke-width="1.45"/><text x="553.8" y="999.2">C</text>
<circle cx="548.0" cy="996" r="5.4" fill="#fff" stroke="#f3a02c" stroke-width="1.45"/><text x="548.0" y="999.2">C</text>
<circle cx="542.2" cy="996" r="5.4" fill="#fff" stroke="#f3a02c" stroke-width="1.45"/><text x="542.2" y="999.2">C</text>
<circle cx="536.4" cy="996" r="5.4" fill="#fff" stroke="#f3a02c" stroke-width="1.45"/><text x="536.4" y="999.2">C</text>
<circle cx="530.7" cy="996" r="5.4" fill="#fff" stroke="#f3a02c" stroke-width="1.45"/><text x="530.7" y="999.2">C</text>
<circle cx="524.9" cy="996" r="5.4" fill="#fff" stroke="#f3a02c" stroke-width="1.45"/><text x="524.9" y="999.2">C</text>
<circle cx="519.1" cy="996" r="5.4" fill="#fff" stroke="#f3a02c" stroke-width="1.45"/><text x="519.1" y="999.2">C</text>
<circle cx="513.3" cy="996" r="5.4" fill="#fff" stroke="#f3a02c" stroke-width="1.45"/><text x="513.3" y="999.2">C</text>
<circle cx="507.5" cy="996" r="5.4" fill="#fff" stroke="#f3a02c" stroke-width="1.45"/><text x="507.5" y="999.2">C</text>
<circle cx="501.8" cy="996" r="5.4" fill="#fff" stroke="#f3a02c" stroke-width="1.45"/><text x="501.8" y="999.2">C</text>
<circle cx="496.0" cy="996" r="5.4" fill="#fff" stroke="#f3a02c" stroke-width="1.45"/><text x="496.0" y="999.2">C</text>
<circle cx="478.6" cy="996" r="5.4" fill="#fff" stroke="#f3a02c" stroke-width="1.45"/><text x="478.6" y="999.2">C</text>
<circle cx="472.9" cy="996" r="5.4" fill="#fff" stroke="#f3a02c" stroke-width="1.45"/><text x="472.9" y="999.2">C</text>
<circle cx="467.1" cy="996" r="5.4" fill="#fff" stroke="#f3a02c" stroke-width="1.45"/><text x="467.1" y="999.2">C</text>
<circle cx="455.5" cy="996" r="5.4" fill="#fff" stroke="#f3a02c" stroke-width="1.45"/><text x="455.5" y="999.2">C</text>
<circle cx="449.8" cy="996" r="5.4" fill="#fff" stroke="#f3a02c" stroke-width="1.45"/><text x="449.8" y="999.2">C</text>
<circle cx="438.2" cy="996" r="5.4" fill="#fff" stroke="#f3a02c" stroke-width="1.45"/><text x="438.2" y="999.2">C</text>
<circle cx="432.4" cy="996" r="5.4" fill="#fff" stroke="#f3a02c" stroke-width="1.45"/><text x="432.4" y="999.2">C</text>
<circle cx="426.6" cy="996" r="5.4" fill="#fff" stroke="#f3a02c" stroke-width="1.45"/><text x="426.6" y="999.2">C</text>
<circle cx="420.9" cy="996" r="5.4" fill="#fff" stroke="#f3a02c" stroke-width="1.45"/><text x="420.9" y="999.2">C</text>
<circle cx="415.1" cy="996" r="5.4" fill="#fff" stroke="#f3a02c" stroke-width="1.45"/><text x="415.1" y="999.2">C</text>
<circle cx="409.3" cy="996" r="5.4" fill="#fff" stroke="#f3a02c" stroke-width="1.45"/><text x="409.3" y="999.2">C</text>
<circle cx="403.5" cy="996" r="5.4" fill="#fff" stroke="#f3a02c" stroke-width="1.45"/><text x="403.5" y="999.2">C</text>
<circle cx="397.8" cy="996" r="5.4" fill="#fff" stroke="#f3a02c" stroke-width="1.45"/><text x="397.8" y="999.2">C</text>
<circle cx="392.0" cy="996" r="5.4" fill="#fff" stroke="#f3a02c" stroke-width="1.45"/><text x="392.0" y="999.2">C</text>
<circle cx="386.2" cy="996" r="5.4" fill="#fff" stroke="#f3a02c" stroke-width="1.45"/><text x="386.2" y="999.2">C</text>
<circle cx="380.4" cy="996" r="5.4" fill="#fff" stroke="#f3a02c" stroke-width="1.45"/><text x="380.4" y="999.2">C</text>
<circle cx="363.1" cy="996" r="5.4" fill="#fff" stroke="#f3a02c" stroke-width="1.45"/><text x="363.1" y="999.2">C</text>
<circle cx="357.3" cy="996" r="5.4" fill="#fff" stroke="#f3a02c" stroke-width="1.45"/><text x="357.3" y="999.2">C</text>
<circle cx="351.5" cy="996" r="5.4" fill="#fff" stroke="#f3a02c" stroke-width="1.45"/><text x="351.5" y="999.2">C</text>
<circle cx="345.8" cy="996" r="5.4" fill="#fff" stroke="#f3a02c" stroke-width="1.45"/><text x="345.8" y="999.2">C</text>
<circle cx="340.0" cy="996" r="5.4" fill="#fff" stroke="#f3a02c" stroke-width="1.45"/><text x="340.0" y="999.2">C</text>
<circle cx="334.2" cy="996" r="5.4" fill="#fff" stroke="#f3a02c" stroke-width="1.45"/><text x="334.2" y="999.2">C</text>
<circle cx="322.6" cy="996" r="5.4" fill="#fff" stroke="#f3a02c" stroke-width="1.45"/><text x="322.6" y="999.2">C</text>
<circle cx="316.9" cy="996" r="5.4" fill="#fff" stroke="#f3a02c" stroke-width="1.45"/><text x="316.9" y="999.2">C</text>
<circle cx="311.1" cy="996" r="5.4" fill="#fff" stroke="#f3a02c" stroke-width="1.45"/><text x="311.1" y="999.2">C</text>
<circle cx="305.3" cy="996" r="5.4" fill="#fff" stroke="#f3a02c" stroke-width="1.45"/><text x="305.3" y="999.2">C</text>
<circle cx="293.8" cy="996" r="5.4" fill="#fff" stroke="#f3a02c" stroke-width="1.45"/><text x="293.8" y="999.2">C</text>
<circle cx="288.0" cy="996" r="5.4" fill="#fff" stroke="#f3a02c" stroke-width="1.45"/><text x="288.0" y="999.2">C</text>
<circle cx="282.2" cy="996" r="5.4" fill="#fff" stroke="#f3a02c" stroke-width="1.45"/><text x="282.2" y="999.2">C</text>
<circle cx="270.6" cy="996" r="5.4" fill="#fff" stroke="#f3a02c" stroke-width="1.45"/><text x="270.6" y="999.2">C</text>
<circle cx="259.1" cy="996" r="5.4" fill="#fff" stroke="#f3a02c" stroke-width="1.45"/><text x="259.1" y="999.2">C</text>
<circle cx="247.5" cy="996" r="5.4" fill="#fff" stroke="#f3a02c" stroke-width="1.45"/><text x="247.5" y="999.2">C</text>
<circle cx="241.8" cy="996" r="5.4" fill="#fff" stroke="#f3a02c" stroke-width="1.45"/><text x="241.8" y="999.2">C</text>
<circle cx="230.2" cy="996" r="5.4" fill="#fff" stroke="#f3a02c" stroke-width="1.45"/><text x="230.2" y="999.2">C</text>
<circle cx="224.4" cy="996" r="5.4" fill="#fff" stroke="#f3a02c" stroke-width="1.45"/><text x="224.4" y="999.2">C</text>
<circle cx="218.6" cy="996" r="5.4" fill="#fff" stroke="#f3a02c" stroke-width="1.45"/><text x="218.6" y="999.2">C</text>
<circle cx="212.9" cy="996" r="5.4" fill="#fff" stroke="#f3a02c" stroke-width="1.45"/><text x="212.9" y="999.2">C</text>
<circle cx="207.1" cy="996" r="5.4" fill="#fff" stroke="#f3a02c" stroke-width="1.45"/><text x="207.1" y="999.2">C</text>
<circle cx="201.3" cy="996" r="5.4" fill="#fff" stroke="#f3a02c" stroke-width="1.45"/><text x="201.3" y="999.2">C</text>
<circle cx="195.5" cy="996" r="5.4" fill="#fff" stroke="#f3a02c" stroke-width="1.45"/><text x="195.5" y="999.2">C</text>
<circle cx="189.8" cy="996" r="5.4" fill="#fff" stroke="#f3a02c" stroke-width="1.45"/><text x="189.8" y="999.2">C</text>
<circle cx="184.0" cy="996" r="5.4" fill="#fff" stroke="#f3a02c" stroke-width="1.45"/><text x="184.0" y="999.2">C</text>
<circle cx="178.2" cy="996" r="5.4" fill="#fff" stroke="#f3a02c" stroke-width="1.45"/><text x="178.2" y="999.2">C</text>
<circle cx="166.6" cy="996" r="5.4" fill="#fff" stroke="#f3a02c" stroke-width="1.45"/><text x="166.6" y="999.2">C</text>
<circle cx="160.9" cy="996" r="5.4" fill="#fff" stroke="#f3a02c" stroke-width="1.45"/><text x="160.9" y="999.2">C</text>
<circle cx="155.1" cy="996" r="5.4" fill="#fff" stroke="#f3a02c" stroke-width="1.45"/><text x="155.1" y="999.2">C</text>
<circle cx="149.3" cy="996" r="5.4" fill="#fff" stroke="#f3a02c" stroke-width="1.45"/><text x="149.3" y="999.2">C</text>
<circle cx="143.5" cy="996" r="5.4" fill="#fff" stroke="#f3a02c" stroke-width="1.45"/><text x="143.5" y="999.2">C</text>
<circle cx="132.0" cy="996" r="5.4" fill="#fff" stroke="#f3a02c" stroke-width="1.45"/><text x="132.0" y="999.2">C</text>
<circle cx="126.2" cy="996" r="5.4" fill="#fff" stroke="#f3a02c" stroke-width="1.45"/><text x="126.2" y="999.2">C</text>
<circle cx="120.4" cy="996" r="5.4" fill="#fff" stroke="#f3a02c" stroke-width="1.45"/><text x="120.4" y="999.2">C</text>
<circle cx="114.6" cy="996" r="5.4" fill="#fff" stroke="#f3a02c" stroke-width="1.45"/><text x="114.6" y="999.2">C</text>
<circle cx="108.9" cy="996" r="5.4" fill="#fff" stroke="#f3a02c" stroke-width="1.45"/><text x="108.9" y="999.2">C</text>
<circle cx="103.1" cy="996" r="5.4" fill="#fff" stroke="#f3a02c" stroke-width="1.45"/><text x="103.1" y="999.2">C</text>
<circle cx="85.7" cy="996" r="5.4" fill="#fff" stroke="#f3a02c" stroke-width="1.45"/><text x="85.7" y="999.2">C</text>
<circle cx="80.0" cy="996" r="5.4" fill="#fff" stroke="#f3a02c" stroke-width="1.45"/><text x="80.0" y="999.2">C</text>
<circle cx="74.2" cy="996" r="5.4" fill="#fff" stroke="#f3a02c" stroke-width="1.45"/><text x="74.2" y="999.2">C</text>
<circle cx="68.4" cy="996" r="5.4" fill="#fff" stroke="#f3a02c" stroke-width="1.45"/><text x="68.4" y="999.2">C</text>
<circle cx="62.6" cy="996" r="5.4" fill="#fff" stroke="#f3a02c" stroke-width="1.45"/><text x="62.6" y="999.2">C</text>
<circle cx="56.9" cy="996" r="5.4" fill="#fff" stroke="#f3a02c" stroke-width="1.45"/><text x="56.9" y="999.2">C</text>
<circle cx="51.1" cy="996" r="5.4" fill="#fff" stroke="#f3a02c" stroke-width="1.45"/><text x="51.1" y="999.2">C</text>
<circle cx="45.3" cy="996" r="5.4" fill="#fff" stroke="#f3a02c" stroke-width="1.45"/><text x="45.3" y="999.2">C</text>
</g>
<text x="58.0" y="995.6" font-size="22.5" fill="#14d9a8" font-weight="bold" text-anchor="start" textLength="89.0" lengthAdjust="spacingAndGlyphs" opacity="0.55">FastBull</text>
<path d="M1408.6 48V1011" stroke="#8c8c8c" stroke-width="1" stroke-dasharray="5 4" fill="none"/>
</g>
<path d="M44 1011.5H1863.5M1863.5 48V1011.5" stroke="#e3e3e3" stroke-width="1" fill="none"/>
<line x1="113.6" x2="113.6" y1="1011" y2="1017" stroke="#e3e3e3" stroke-width="1"/>
<line x1="194.5" x2="194.5" y1="1011" y2="1017" stroke="#e3e3e3" stroke-width="1"/>
<line x1="275.4" x2="275.4" y1="1011" y2="1017" stroke="#e3e3e3" stroke-width="1"/>
<line x1="356.3" x2="356.3" y1="1011" y2="1017" stroke="#e3e3e3" stroke-width="1"/>
<line x1="437.2" x2="437.2" y1="1011" y2="1017" stroke="#e3e3e3" stroke-width="1"/>
<line x1="518.0" x2="518.0" y1="1011" y2="1017" stroke="#e3e3e3" stroke-width="1"/>
<line x1="598.9" x2="598.9" y1="1011" y2="1017" stroke="#e3e3e3" stroke-width="1"/>
<line x1="679.8" x2="679.8" y1="1011" y2="1017" stroke="#e3e3e3" stroke-width="1"/>
<line x1="760.7" x2="760.7" y1="1011" y2="1017" stroke="#e3e3e3" stroke-width="1"/>
<line x1="841.6" x2="841.6" y1="1011" y2="1017" stroke="#e3e3e3" stroke-width="1"/>
<line x1="922.5" x2="922.5" y1="1011" y2="1017" stroke="#e3e3e3" stroke-width="1"/>
<line x1="1003.4" x2="1003.4" y1="1011" y2="1017" stroke="#e3e3e3" stroke-width="1"/>
<line x1="1084.3" x2="1084.3" y1="1011" y2="1017" stroke="#e3e3e3" stroke-width="1"/>
<line x1="1165.2" x2="1165.2" y1="1011" y2="1017" stroke="#e3e3e3" stroke-width="1"/>
<line x1="1246.1" x2="1246.1" y1="1011" y2="1017" stroke="#e3e3e3" stroke-width="1"/>
<line x1="1326.9" x2="1326.9" y1="1011" y2="1017" stroke="#e3e3e3" stroke-width="1"/>
<line x1="1407.8" x2="1407.8" y1="1011" y2="1017" stroke="#e3e3e3" stroke-width="1"/>
<line x1="1488.7" x2="1488.7" y1="1011" y2="1017" stroke="#e3e3e3" stroke-width="1"/>
<line x1="1569.6" x2="1569.6" y1="1011" y2="1017" stroke="#e3e3e3" stroke-width="1"/>
<line x1="1650.5" x2="1650.5" y1="1011" y2="1017" stroke="#e3e3e3" stroke-width="1"/>
<line x1="1731.4" x2="1731.4" y1="1011" y2="1017" stroke="#e3e3e3" stroke-width="1"/>
<line x1="1812.3" x2="1812.3" y1="1011" y2="1017" stroke="#e3e3e3" stroke-width="1"/>
<rect x="940.5" y="966.2" width="19" height="19" rx="4" fill="#fff" filter="url(#sh)"/>
<path d="M945 975.7h10M950 970.7v10" stroke="#222" stroke-width="1.4"/>
<rect x="971.2" y="966.2" width="19" height="19" rx="4" fill="#fff" filter="url(#sh)"/>
<path d="M975.7 975.7h10" stroke="#222" stroke-width="1.4"/>
<rect x="1001.5" y="966.2" width="19" height="19" rx="4" fill="#fff" filter="url(#sh)"/>
<path d="M1006.8 972.5A5 5 0 1 1 1006 976.5" stroke="#222" stroke-width="1.3" fill="none"/><path d="M1005.8 969.3v3.6h3.6" stroke="#222" stroke-width="1.3" fill="none"/>
<rect x="1839.7" y="966.8" width="17.5" height="18" rx="3" fill="#fff" filter="url(#sh)"/>
<path d="M1846.5 971.5l4.2 4.3l-4.2 4.3" stroke="#222" stroke-width="1.4" fill="none"/>
<line x1="1863.5" x2="1867" y1="67.9" y2="67.9" stroke="#e3e3e3"/>
<text x="1871.3" y="71.6" font-size="10.3" fill="#222" font-weight="normal" text-anchor="start" textLength="34.0" lengthAdjust="spacingAndGlyphs" >0.62252</text>
<line x1="1863.5" x2="1867" y1="94.9" y2="94.9" stroke="#e3e3e3"/>
<text x="1871.3" y="98.6" font-size="10.3" fill="#222" font-weight="normal" text-anchor="start" textLength="34.0" lengthAdjust="spacingAndGlyphs" >0.62039</text>
<line x1="1863.5" x2="1867" y1="121.8" y2="121.8" stroke="#e3e3e3"/>
<text x="1871.3" y="125.5" font-size="10.3" fill="#222" font-weight="normal" text-anchor="start" textLength="34.0" lengthAdjust="spacingAndGlyphs" >0.61826</text>
<line x1="1863.5" x2="1867" y1="148.8" y2="148.8" stroke="#e3e3e3"/>
<text x="1871.3" y="152.5" font-size="10.3" fill="#222" font-weight="normal" text-anchor="start" textLength="34.0" lengthAdjust="spacingAndGlyphs" >0.61614</text>
<line x1="1863.5" x2="1867" y1="175.8" y2="175.8" stroke="#e3e3e3"/>
<text x="1871.3" y="179.5" font-size="10.3" fill="#222" font-weight="normal" text-anchor="start" textLength="34.0" lengthAdjust="spacingAndGlyphs" >0.61403</text>
<line x1="1863.5" x2="1867" y1="229.7" y2="229.7" stroke="#e3e3e3"/>
<text x="1871.3" y="233.4" font-size="10.3" fill="#222" font-weight="normal" text-anchor="start" textLength="34.0" lengthAdjust="spacingAndGlyphs" >0.60983</text>
<line x1="1863.5" x2="1867" y1="256.7" y2="256.7" stroke="#e3e3e3"/>
<text x="1871.3" y="260.4" font-size="10.3" fill="#222" font-weight="normal" text-anchor="start" textLength="34.0" lengthAdjust="spacingAndGlyphs" >0.60775</text>
<line x1="1863.5" x2="1867" y1="283.6" y2="283.6" stroke="#e3e3e3"/>
<text x="1871.3" y="287.3" font-size="10.3" fill="#222" font-weight="normal" text-anchor="start" textLength="34.0" lengthAdjust="spacingAndGlyphs" >0.60566</text>
<line x1="1863.5" x2="1867" y1="310.6" y2="310.6" stroke="#e3e3e3"/>
<text x="1871.3" y="314.3" font-size="10.3" fill="#222" font-weight="normal" text-anchor="start" textLength="34.0" lengthAdjust="spacingAndGlyphs" >0.60359</text>
<line x1="1863.5" x2="1867" y1="337.6" y2="337.6" stroke="#e3e3e3"/>
<text x="1871.3" y="341.3" font-size="10.3" fill="#222" font-weight="normal" text-anchor="start" textLength="34.0" lengthAdjust="spacingAndGlyphs" >0.60152</text>
<line x1="1863.5" x2="1867" y1="364.5" y2="364.5" stroke="#e3e3e3"/>
<text x="1871.3" y="368.2" font-size="10.3" fill="#222" font-weight="normal" text-anchor="start" textLength="34.0" lengthAdjust="spacingAndGlyphs" >0.59946</text>
<line x1="1863.5" x2="1867" y1="391.5" y2="391.5" stroke="#e3e3e3"/>
<text x="1871.3" y="395.2" font-size="10.3" fill="#222" font-weight="normal" text-anchor="start" textLength="34.0" lengthAdjust="spacingAndGlyphs" >0.59741</text>
<line x1="1863.5" x2="1867" y1="418.5" y2="418.5" stroke="#e3e3e3"/>
<text x="1871.3" y="422.2" font-size="10.3" fill="#222" font-weight="normal" text-anchor="start" textLength="34.0" lengthAdjust="spacingAndGlyphs" >0.59536</text>
<line x1="1863.5" x2="1867" y1="445.4" y2="445.4" stroke="#e3e3e3"/>
<text x="1871.3" y="449.1" font-size="10.3" fill="#222" font-weight="normal" text-anchor="start" textLength="34.0" lengthAdjust="spacingAndGlyphs" >0.59332</text>
<line x1="1863.5" x2="1867" y1="472.4" y2="472.4" stroke="#e3e3e3"/>
<text x="1871.3" y="476.1" font-size="10.3" fill="#222" font-weight="normal" text-anchor="start" textLength="34.0" lengthAdjust="spacingAndGlyphs" >0.59129</text>
<line x1="1863.5" x2="1867" y1="499.4" y2="499.4" stroke="#e3e3e3"/>
<text x="1871.3" y="503.1" font-size="10.3" fill="#222" font-weight="normal" text-anchor="start" textLength="34.0" lengthAdjust="spacingAndGlyphs" >0.58927</text>
<line x1="1863.5" x2="1867" y1="553.3" y2="553.3" stroke="#e3e3e3"/>
<text x="1871.3" y="557.0" font-size="10.3" fill="#222" font-weight="normal" text-anchor="start" textLength="34.0" lengthAdjust="spacingAndGlyphs" >0.58524</text>
<line x1="1863.5" x2="1867" y1="607.2" y2="607.2" stroke="#e3e3e3"/>
<text x="1871.3" y="610.9" font-size="10.3" fill="#222" font-weight="normal" text-anchor="start" textLength="34.0" lengthAdjust="spacingAndGlyphs" >0.58124</text>
<line x1="1863.5" x2="1867" y1="634.2" y2="634.2" stroke="#e3e3e3"/>
<text x="1871.3" y="637.9" font-size="10.3" fill="#222" font-weight="normal" text-anchor="start" textLength="34.0" lengthAdjust="spacingAndGlyphs" >0.57925</text>
<line x1="1863.5" x2="1867" y1="661.2" y2="661.2" stroke="#e3e3e3"/>
<text x="1871.3" y="664.9" font-size="10.3" fill="#222" font-weight="normal" text-anchor="start" textLength="34.0" lengthAdjust="spacingAndGlyphs" >0.57726</text>
<line x1="1863.5" x2="1867" y1="688.2" y2="688.2" stroke="#e3e3e3"/>
<text x="1871.3" y="691.9" font-size="10.3" fill="#222" font-weight="normal" text-anchor="start" textLength="34.0" lengthAdjust="spacingAndGlyphs" >0.57528</text>
<line x1="1863.5" x2="1867" y1="715.1" y2="715.1" stroke="#e3e3e3"/>
<text x="1871.3" y="718.8" font-size="10.3" fill="#222" font-weight="normal" text-anchor="start" textLength="34.0" lengthAdjust="spacingAndGlyphs" >0.57331</text>
<line x1="1863.5" x2="1867" y1="742.1" y2="742.1" stroke="#e3e3e3"/>
<text x="1871.3" y="745.8" font-size="10.3" fill="#222" font-weight="normal" text-anchor="start" textLength="34.0" lengthAdjust="spacingAndGlyphs" >0.57134</text>
<line x1="1863.5" x2="1867" y1="769.1" y2="769.1" stroke="#e3e3e3"/>
<text x="1871.3" y="772.8" font-size="10.3" fill="#222" font-weight="normal" text-anchor="start" textLength="34.0" lengthAdjust="spacingAndGlyphs" >0.56939</text>
<line x1="1863.5" x2="1867" y1="796.0" y2="796.0" stroke="#e3e3e3"/>
<text x="1871.3" y="799.7" font-size="10.3" fill="#222" font-weight="normal" text-anchor="start" textLength="34.0" lengthAdjust="spacingAndGlyphs" >0.56744</text>
<line x1="1863.5" x2="1867" y1="823.0" y2="823.0" stroke="#e3e3e3"/>
<text x="1871.3" y="826.7" font-size="10.3" fill="#222" font-weight="normal" text-anchor="start" textLength="34.0" lengthAdjust="spacingAndGlyphs" >0.56550</text>
<line x1="1863.5" x2="1867" y1="850.0" y2="850.0" stroke="#e3e3e3"/>
<text x="1871.3" y="853.7" font-size="10.3" fill="#222" font-weight="normal" text-anchor="start" textLength="34.0" lengthAdjust="spacingAndGlyphs" >0.56356</text>
<line x1="1863.5" x2="1867" y1="877.0" y2="877.0" stroke="#e3e3e3"/>
<text x="1871.3" y="880.7" font-size="10.3" fill="#222" font-weight="normal" text-anchor="start" textLength="34.0" lengthAdjust="spacingAndGlyphs" >0.56163</text>
<line x1="1863.5" x2="1867" y1="957.9" y2="957.9" stroke="#e3e3e3"/>
<text x="1871.3" y="961.6" font-size="10.3" fill="#222" font-weight="normal" text-anchor="start" textLength="34.0" lengthAdjust="spacingAndGlyphs" >0.55588</text>
<line x1="1863.5" x2="1867" y1="984.8" y2="984.8" stroke="#e3e3e3"/>
<text x="1871.3" y="988.5" font-size="10.3" fill="#222" font-weight="normal" text-anchor="start" textLength="34.0" lengthAdjust="spacingAndGlyphs" >0.55398</text>
<rect x="1866.9" y="776.0" width="42.8" height="18.3" rx="2.5" fill="#636363"/>
<text x="1871.3" y="788.9" font-size="10.3" fill="#fff" font-weight="normal" text-anchor="start" textLength="34.0" lengthAdjust="spacingAndGlyphs" >0.56813</text>
<rect x="1866.9" y="190.0" width="42.8" height="19.5" rx="2.5" fill="#636363"/>
<text x="1871.3" y="203.4" font-size="10.3" fill="#fff" font-weight="normal" text-anchor="start" textLength="34.0" lengthAdjust="spacingAndGlyphs" >0.61208</text>
<rect x="1866.9" y="343.8" width="42.8" height="16.8" rx="2.5" fill="#636363"/>
<text x="1871.3" y="355.9" font-size="10.3" fill="#fff" font-weight="normal" text-anchor="start" textLength="34.0" lengthAdjust="spacingAndGlyphs" >0.60043</text>
<rect x="1866.9" y="419.6" width="42.8" height="15.8" rx="2.5" fill="#636363"/>
<text x="1871.3" y="431.2" font-size="10.3" fill="#fff" font-weight="normal" text-anchor="start" textLength="34.0" lengthAdjust="spacingAndGlyphs" >0.59467</text>
<rect x="1866.9" y="515.0" width="42.8" height="16.0" rx="2.5" fill="#9d9d9d"/>
<text x="1871.3" y="526.7" font-size="10.3" fill="#fff" font-weight="normal" text-anchor="start" textLength="34.0" lengthAdjust="spacingAndGlyphs" >0.58748</text>
<rect x="1866.9" y="601.5" width="42.8" height="17.8" rx="2.5" fill="#636363"/>
<text x="1871.3" y="614.1" font-size="10.3" fill="#fff" font-weight="normal" text-anchor="start" textLength="34.0" lengthAdjust="spacingAndGlyphs" >0.58096</text>
<rect x="1866.9" y="639.0" width="42.8" height="18.0" rx="2.5" fill="#636363"/>
<text x="1871.3" y="651.7" font-size="10.3" fill="#fff" font-weight="normal" text-anchor="start" textLength="34.0" lengthAdjust="spacingAndGlyphs" >0.57820</text>
<rect x="1866.9" y="728.2" width="42.8" height="17.8" rx="2.5" fill="#636363"/>
<text x="1871.3" y="740.8" font-size="10.3" fill="#fff" font-weight="normal" text-anchor="start" textLength="34.0" lengthAdjust="spacingAndGlyphs" >0.57166</text>
<rect x="1866.9" y="745.6" width="42.8" height="18.4" rx="2.5" fill="#636363"/>
<text x="1871.3" y="758.5" font-size="10.3" fill="#fff" font-weight="normal" text-anchor="start" textLength="34.0" lengthAdjust="spacingAndGlyphs" >0.57032</text>
<rect x="1866.9" y="763.6" width="42.8" height="20.4" rx="2.5" fill="#636363"/>
<text x="1871.3" y="777.5" font-size="10.3" fill="#fff" font-weight="normal" text-anchor="start" textLength="34.0" lengthAdjust="spacingAndGlyphs" >0.56895</text>
<rect x="1866.9" y="805.2" width="42.8" height="17.4" rx="2.5" fill="#636363"/>
<text x="1871.3" y="817.6" font-size="10.3" fill="#fff" font-weight="normal" text-anchor="start" textLength="34.0" lengthAdjust="spacingAndGlyphs" >0.56613</text>
<rect x="1866.9" y="897.3" width="42.8" height="17.4" rx="2.5" fill="#636363"/>
<text x="1871.3" y="909.7" font-size="10.3" fill="#fff" font-weight="normal" text-anchor="start" textLength="34.0" lengthAdjust="spacingAndGlyphs" >0.55951</text>
<rect x="1866.9" y="920.6" width="42.8" height="17.4" rx="2.5" fill="#636363"/>
<text x="1871.3" y="933.0" font-size="10.3" fill="#fff" font-weight="normal" text-anchor="start" textLength="34.0" lengthAdjust="spacingAndGlyphs" >0.55784</text>
<rect x="1866.9" y="967.5" width="42.8" height="17.3" rx="2.5" fill="#636363"/>
<text x="1871.3" y="979.9" font-size="10.3" fill="#fff" font-weight="normal" text-anchor="start" textLength="34.0" lengthAdjust="spacingAndGlyphs" >0.55454</text>
<rect x="1866.9" y="569.7" width="45.1" height="27.8" rx="2.5" fill="#f5a623"/>
<text x="1871.3" y="582.3" font-size="10.3" fill="#fff" font-weight="normal" text-anchor="start" textLength="34.0" lengthAdjust="spacingAndGlyphs" >0.58327</text>
<text x="1871.3" y="594.0" font-size="10.3" fill="#fff" font-weight="normal" text-anchor="start" textLength="36.0" lengthAdjust="spacingAndGlyphs" opacity="0.85">01:56:10</text>
<text x="113.6" y="1027.1" font-size="10.3" fill="#222" font-weight="normal" text-anchor="middle" textLength="55.0" lengthAdjust="spacingAndGlyphs" >Feb 05 17:00</text>
<text x="194.5" y="1027.1" font-size="10.3" fill="#222" font-weight="normal" text-anchor="middle" textLength="23.0" lengthAdjust="spacingAndGlyphs" >05:00</text>
<text x="275.4" y="1027.1" font-size="10.3" fill="#222" font-weight="normal" text-anchor="middle" textLength="23.0" lengthAdjust="spacingAndGlyphs" >17:00</text>
<text x="356.3" y="1027.1" font-size="10.3" fill="#222" font-weight="normal" text-anchor="middle" textLength="23.0" lengthAdjust="spacingAndGlyphs" >05:00</text>
<text x="437.2" y="1027.1" font-size="10.3" fill="#222" font-weight="normal" text-anchor="middle" textLength="23.0" lengthAdjust="spacingAndGlyphs" >17:00</text>
<text x="518.0" y="1027.1" font-size="10.3" fill="#222" font-weight="normal" text-anchor="middle" textLength="55.0" lengthAdjust="spacingAndGlyphs" >Mar 03 05:00</text>
<text x="598.9" y="1027.1" font-size="10.3" fill="#222" font-weight="normal" text-anchor="middle" textLength="23.0" lengthAdjust="spacingAndGlyphs" >17:00</text>
<text x="679.8" y="1027.1" font-size="10.3" fill="#222" font-weight="normal" text-anchor="middle" textLength="23.0" lengthAdjust="spacingAndGlyphs" >04:00</text>
<text x="760.7" y="1027.1" font-size="10.3" fill="#222" font-weight="normal" text-anchor="middle" textLength="23.0" lengthAdjust="spacingAndGlyphs" >16:00</text>
<text x="841.6" y="1027.1" font-size="10.3" fill="#222" font-weight="normal" text-anchor="middle" textLength="23.0" lengthAdjust="spacingAndGlyphs" >04:00</text>
<text x="922.5" y="1027.1" font-size="10.3" fill="#222" font-weight="normal" text-anchor="middle" textLength="23.0" lengthAdjust="spacingAndGlyphs" >16:00</text>
<text x="1003.4" y="1027.1" font-size="10.3" fill="#222" font-weight="normal" text-anchor="middle" textLength="55.0" lengthAdjust="spacingAndGlyphs" >Apr 01 04:00</text>
<text x="1084.3" y="1027.1" font-size="10.3" fill="#222" font-weight="normal" text-anchor="middle" textLength="23.0" lengthAdjust="spacingAndGlyphs" >16:00</text>
<text x="1165.2" y="1027.1" font-size="10.3" fill="#222" font-weight="normal" text-anchor="middle" textLength="23.0" lengthAdjust="spacingAndGlyphs" >04:00</text>
<text x="1246.1" y="1027.1" font-size="10.3" fill="#222" font-weight="normal" text-anchor="middle" textLength="23.0" lengthAdjust="spacingAndGlyphs" >16:00</text>
<text x="1326.9" y="1027.1" font-size="10.3" fill="#222" font-weight="normal" text-anchor="middle" textLength="23.0" lengthAdjust="spacingAndGlyphs" >04:00</text>
<text x="1488.7" y="1027.1" font-size="10.3" fill="#222" font-weight="normal" text-anchor="middle" textLength="23.0" lengthAdjust="spacingAndGlyphs" >04:00</text>
<text x="1569.6" y="1027.1" font-size="10.3" fill="#222" font-weight="normal" text-anchor="middle" textLength="55.0" lengthAdjust="spacingAndGlyphs" >May 05 16:00</text>
<text x="1650.5" y="1027.1" font-size="10.3" fill="#222" font-weight="normal" text-anchor="middle" textLength="23.0" lengthAdjust="spacingAndGlyphs" >04:00</text>
<text x="1731.4" y="1027.1" font-size="10.3" fill="#222" font-weight="normal" text-anchor="middle" textLength="23.0" lengthAdjust="spacingAndGlyphs" >16:00</text>
<text x="1812.3" y="1027.1" font-size="10.3" fill="#222" font-weight="normal" text-anchor="middle" textLength="23.0" lengthAdjust="spacingAndGlyphs" >04:00</text>
<rect x="1358.3" y="1015.7" width="100.7" height="16" rx="2" fill="#9d9d9d"/>
<text x="1408.6" y="1027.3" font-size="10.3" fill="#fff" font-weight="normal" text-anchor="middle" textLength="93.0" lengthAdjust="spacingAndGlyphs" >Fri Apr 24, 2026 16:00</text>
<polygon points="1900.3,1024.6 1898.4,1026.1 1897.8,1028.3 1895.5,1028.0 1893.5,1029.2 1892.0,1027.3 1889.8,1026.7 1890.1,1024.4 1888.9,1022.4 1890.8,1020.9 1891.4,1018.7 1893.7,1019.0 1895.7,1017.8 1897.2,1019.7 1899.4,1020.3 1899.1,1022.6" fill="none" stroke="#222" stroke-width="1.2" stroke-linejoin="round"/><circle cx="1894.6" cy="1023.5" r="1.8" fill="none" stroke="#222" stroke-width="1.2"/>
<rect x="10" y="1035" width="27.7" height="26.7" rx="3" fill="#14d9a8"/>
<polygon points="23.9,1040.5 26.6,1045.7 32.4,1046.6 28.3,1050.8 29.1,1056.6 23.9,1054.0 18.7,1056.6 19.5,1050.8 15.4,1046.6 21.2,1045.7" fill="none" stroke="#1a2b28" stroke-width="1.7" stroke-linejoin="round"/>
<path d="M49 1036.5H1909Q1915 1036.5 1915 1042.5V1060.5Q1915 1066.5 1909 1066.5H49Q43 1066.5 43 1060.5V1042.5Q43 1036.5 49 1036.5Z" fill="#f4f4f4"/>
<rect x="1256.7" y="1039" width="135" height="25" rx="5" fill="#fff" filter="url(#sh)"/>
<text x="45.7" y="1055.2" font-size="11.2" fill="#222" font-weight="normal" text-anchor="start" textLength="86.0" lengthAdjust="spacingAndGlyphs" >US Dollar I... , H8</text>
<path d="M152.8 1047.8l6.4 6.4M159.2 1047.8l-6.4 6.4" stroke="#555" stroke-width="1"/>
<line x1="171.7" x2="171.7" y1="1045" y2="1058" stroke="#dcdcdc"/>
<text x="181.4" y="1055.2" font-size="11.2" fill="#222" font-weight="normal" text-anchor="start" textLength="65.0" lengthAdjust="spacingAndGlyphs" >XAGUSD, H2</text>
<path d="M288.5 1047.8l6.4 6.4M294.9 1047.8l-6.4 6.4" stroke="#555" stroke-width="1"/>
<line x1="307.4" x2="307.4" y1="1045" y2="1058" stroke="#dcdcdc"/>
<text x="317.0" y="1055.2" font-size="11.2" fill="#222" font-weight="normal" text-anchor="start" textLength="65.3" lengthAdjust="spacingAndGlyphs" >XAUUSD, H2</text>
<path d="M424.1 1047.8l6.4 6.4M430.5 1047.8l-6.4 6.4" stroke="#555" stroke-width="1"/>
<line x1="443.0" x2="443.0" y1="1045" y2="1058" stroke="#dcdcdc"/>
<text x="452.7" y="1055.2" font-size="11.2" fill="#222" font-weight="normal" text-anchor="start" textLength="63.7" lengthAdjust="spacingAndGlyphs" >COPPER, H8</text>
<path d="M559.8 1047.8l6.4 6.4M566.2 1047.8l-6.4 6.4" stroke="#555" stroke-width="1"/>
<line x1="578.7" x2="578.7" y1="1045" y2="1058" stroke="#dcdcdc"/>
<text x="588.4" y="1055.2" font-size="11.2" fill="#222" font-weight="normal" text-anchor="start" textLength="64.3" lengthAdjust="spacingAndGlyphs" >EURUSD, H4</text>
<path d="M695.5 1047.8l6.4 6.4M701.9 1047.8l-6.4 6.4" stroke="#555" stroke-width="1"/>
<line x1="714.4" x2="714.4" y1="1045" y2="1058" stroke="#dcdcdc"/>
<text x="724.0" y="1055.2" font-size="11.2" fill="#222" font-weight="normal" text-anchor="start" textLength="65.3" lengthAdjust="spacingAndGlyphs" >GBPUSD, H8</text>
<path d="M831.1 1047.8l6.4 6.4M837.5 1047.8l-6.4 6.4" stroke="#555" stroke-width="1"/>
<line x1="850.0" x2="850.0" y1="1045" y2="1058" stroke="#dcdcdc"/>
<text x="859.7" y="1055.2" font-size="11.2" fill="#222" font-weight="normal" text-anchor="start" textLength="66.0" lengthAdjust="spacingAndGlyphs" >USDCAD, H4</text>
<path d="M966.8 1047.8l6.4 6.4M973.2 1047.8l-6.4 6.4" stroke="#555" stroke-width="1"/>
<line x1="985.7" x2="985.7" y1="1045" y2="1058" stroke="#dcdcdc"/>
<text x="995.4" y="1055.2" font-size="11.2" fill="#222" font-weight="normal" text-anchor="start" textLength="65.0" lengthAdjust="spacingAndGlyphs" >USDCHF, H6</text>
<path d="M1102.5 1047.8l6.4 6.4M1108.9 1047.8l-6.4 6.4" stroke="#555" stroke-width="1"/>
<line x1="1121.4" x2="1121.4" y1="1045" y2="1058" stroke="#dcdcdc"/>
<text x="1131.1" y="1055.2" font-size="11.2" fill="#222" font-weight="normal" text-anchor="start" textLength="64.3" lengthAdjust="spacingAndGlyphs" >BTCUSD, H8</text>
<path d="M1238.2 1047.8l6.4 6.4M1244.6 1047.8l-6.4 6.4" stroke="#555" stroke-width="1"/>
<text x="1266.7" y="1055.2" font-size="11.2" fill="#111" font-weight="bold" text-anchor="start" textLength="69.0" lengthAdjust="spacingAndGlyphs" >NZDUSD, H6</text>
<path d="M1373.8 1047.8l6.4 6.4M1380.2 1047.8l-6.4 6.4" stroke="#555" stroke-width="1"/>
<text x="1402.4" y="1055.2" font-size="11.2" fill="#222" font-weight="normal" text-anchor="start" textLength="63.3" lengthAdjust="spacingAndGlyphs" >USDJPY, H4</text>
<path d="M1509.5 1047.8l6.4 6.4M1515.9 1047.8l-6.4 6.4" stroke="#555" stroke-width="1"/>
<line x1="1528.4" x2="1528.4" y1="1045" y2="1058" stroke="#dcdcdc"/>
<text x="1538.1" y="1055.2" font-size="11.2" fill="#222" font-weight="normal" text-anchor="start" textLength="40.3" lengthAdjust="spacingAndGlyphs" >WTI, H6</text>
<path d="M1645.2 1047.8l6.4 6.4M1651.6 1047.8l-6.4 6.4" stroke="#555" stroke-width="1"/>
<line x1="1664.1" x2="1664.1" y1="1045" y2="1058" stroke="#dcdcdc"/>
<text x="1673.7" y="1055.2" font-size="11.2" fill="#222" font-weight="normal" text-anchor="start" textLength="80.7" lengthAdjust="spacingAndGlyphs" >ETH-USDT, H12</text>
<path d="M1780.8 1047.8l6.4 6.4M1787.2 1047.8l-6.4 6.4" stroke="#555" stroke-width="1"/>
<line x1="1799.7" x2="1799.7" y1="1045" y2="1058" stroke="#dcdcdc"/>
<path d="M1809.4 1051.4h10M1814.4 1046.4v10" stroke="#222" stroke-width="1.4"/>
<rect x="1835.2" y="1046.8" width="13.6" height="9.6" rx="2" fill="none" stroke="#222" stroke-width="1.4"/><path d="M1841.3 1046.8v9.6M1841.3 1051.6h7.5" stroke="#222" stroke-width="1.4"/>
<rect x="1864.4" y="1048" width="11" height="6.6" rx="1.6" fill="none" stroke="#222" stroke-width="1.4"/>
<path d="M1892.2 1049.5v-2q0-1.6 1.6-1.6h2M1899.8 1045.9h2q1.6 0 1.6 1.6v2M1903.4 1053.5v2q0 1.6-1.6 1.6h-2M1895.8 1057.1h-2q-1.6 0-1.6-1.6v-2" stroke="#222" stroke-width="1.4" fill="none"/>
<circle cx="56.8" cy="63.8" r="7" fill="#14d9a8"/>
<text x="56.8" y="66.6" font-size="7.5" fill="#0f2e2a" font-weight="bold" text-anchor="middle" textLength="9.0" lengthAdjust="spacingAndGlyphs" >FB</text>
<text x="67.5" y="67.8" font-size="11.5" fill="#222" font-weight="normal" text-anchor="start" textLength="256.8" lengthAdjust="spacingAndGlyphs" >New Zealand Dollar vs US Dollar, H6, Unadjusted</text>
<circle cx="332" cy="63.6" r="3.6" fill="#14d9a8"/>
<text x="343.3" y="67.3" font-size="10" fill="#222" font-weight="normal" text-anchor="start" textLength="17.7" lengthAdjust="spacingAndGlyphs" >O =</text>
<text x="362.5" y="67.3" font-size="10" fill="#19cfa3" font-weight="normal" text-anchor="start" textLength="35.8" lengthAdjust="spacingAndGlyphs" >0.58689</text>
<text x="406.7" y="67.3" font-size="10" fill="#222" font-weight="normal" text-anchor="start" textLength="17.8" lengthAdjust="spacingAndGlyphs" >H =</text>
<text x="426.0" y="67.3" font-size="10" fill="#19cfa3" font-weight="normal" text-anchor="start" textLength="35.7" lengthAdjust="spacingAndGlyphs" >0.58828</text>
<text x="470.0" y="67.3" font-size="10" fill="#222" font-weight="normal" text-anchor="start" textLength="15.5" lengthAdjust="spacingAndGlyphs" >L =</text>
<text x="487.0" y="67.3" font-size="10" fill="#19cfa3" font-weight="normal" text-anchor="start" textLength="35.7" lengthAdjust="spacingAndGlyphs" >0.58662</text>
<text x="530.7" y="67.3" font-size="10" fill="#222" font-weight="normal" text-anchor="start" textLength="16.8" lengthAdjust="spacingAndGlyphs" >C =</text>
<text x="549.0" y="67.3" font-size="10" fill="#19cfa3" font-weight="normal" text-anchor="start" textLength="35.3" lengthAdjust="spacingAndGlyphs" >0.58764</text>
<text x="592.7" y="67.3" font-size="10" fill="#222" font-weight="normal" text-anchor="start" textLength="5.8" lengthAdjust="spacingAndGlyphs" >V</text>
<text x="602.5" y="67.3" font-size="10" fill="#19cfa3" font-weight="normal" text-anchor="start" textLength="30.8" lengthAdjust="spacingAndGlyphs" >18.20K</text>
<text x="641.7" y="67.3" font-size="10" fill="#19cfa3" font-weight="normal" text-anchor="start" textLength="84.3" lengthAdjust="spacingAndGlyphs" >+0.00074 (+0.13%)</text>
<rect x="12.6" y="14" width="62.4" height="24" rx="5" fill="#f5f5f5"/>
<text x="21.4" y="30.0" font-size="10.8" fill="#222" font-weight="normal" text-anchor="start" textLength="33.5" lengthAdjust="spacingAndGlyphs" >Charts</text>
<path d="M59.5 25.3l3 3l3-3" stroke="#333" stroke-width="1.1" fill="none"/>
<circle cx="92.9" cy="26.2" r="5.7" fill="none" stroke="#222" stroke-width="1.4"/><path d="M97 30.2l2.9 2.7" stroke="#222" stroke-width="1.4"/>
<line x1="113" x2="113" y1="17" y2="32" stroke="#f0f0f0"/>
<line x1="155" x2="155" y1="17" y2="32" stroke="#f0f0f0"/>
<line x1="598" x2="598" y1="17" y2="32" stroke="#f0f0f0"/>
<line x1="1026.5" x2="1026.5" y1="17" y2="32" stroke="#f0f0f0"/>
<line x1="1064.5" x2="1064.5" y1="17" y2="32" stroke="#f0f0f0"/>
<line x1="1102.5" x2="1102.5" y1="17" y2="32" stroke="#f0f0f0"/>
<line x1="1140" x2="1140" y1="17" y2="32" stroke="#f0f0f0"/>
<line x1="1202.5" x2="1202.5" y1="17" y2="32" stroke="#f0f0f0"/>
<rect x="128.3" y="22.6" width="4.3" height="8.4" rx="1.2" fill="none" stroke="#222" stroke-width="1.4"/><path d="M130.45 20.1v2.5M130.45 31v2.5" stroke="#222" stroke-width="1.4"/>
<rect x="135.7" y="23.9" width="3.9" height="6" rx="1.2" fill="none" stroke="#35d8b2" stroke-width="1.3"/><path d="M137.65 21.4v2.5M137.65 29.9v2.4" stroke="#35d8b2" stroke-width="1.3"/>
<text x="170.7" y="29.9" font-size="10.5" fill="#222" font-weight="normal" text-anchor="start" textLength="14.0" lengthAdjust="spacingAndGlyphs" >M1</text>
<text x="197.7" y="29.9" font-size="10.5" fill="#222" font-weight="normal" text-anchor="start" textLength="16.0" lengthAdjust="spacingAndGlyphs" >M5</text>
<text x="226.3" y="29.9" font-size="10.5" fill="#222" font-weight="normal" text-anchor="start" textLength="21.0" lengthAdjust="spacingAndGlyphs" >M10</text>
<text x="260.0" y="29.9" font-size="10.5" fill="#222" font-weight="normal" text-anchor="start" textLength="21.0" lengthAdjust="spacingAndGlyphs" >M15</text>
<text x="293.3" y="29.9" font-size="10.5" fill="#222" font-weight="normal" text-anchor="start" textLength="23.4" lengthAdjust="spacingAndGlyphs" >M30</text>
<text x="329.3" y="29.9" font-size="10.5" fill="#222" font-weight="normal" text-anchor="start" textLength="12.0" lengthAdjust="spacingAndGlyphs" >H1</text>
<text x="354.3" y="29.9" font-size="10.5" fill="#222" font-weight="normal" text-anchor="start" textLength="13.7" lengthAdjust="spacingAndGlyphs" >H2</text>
<text x="381.0" y="29.9" font-size="10.5" fill="#222" font-weight="normal" text-anchor="start" textLength="14.3" lengthAdjust="spacingAndGlyphs" >H4</text>
<text x="408.3" y="29.9" font-size="10.5" fill="#19cfa3" font-weight="normal" text-anchor="start" textLength="14.7" lengthAdjust="spacingAndGlyphs" >H6</text>
<text x="435.3" y="29.9" font-size="10.5" fill="#222" font-weight="normal" text-anchor="start" textLength="14.4" lengthAdjust="spacingAndGlyphs" >H8</text>
<text x="462.3" y="29.9" font-size="10.5" fill="#222" font-weight="normal" text-anchor="start" textLength="19.0" lengthAdjust="spacingAndGlyphs" >H12</text>
<text x="494.0" y="29.9" font-size="10.5" fill="#222" font-weight="normal" text-anchor="start" textLength="12.3" lengthAdjust="spacingAndGlyphs" >D1</text>
<text x="519.0" y="29.9" font-size="10.5" fill="#222" font-weight="normal" text-anchor="start" textLength="14.7" lengthAdjust="spacingAndGlyphs" >W1</text>
<text x="546.3" y="29.9" font-size="10.5" fill="#222" font-weight="normal" text-anchor="start" textLength="22.0" lengthAdjust="spacingAndGlyphs" >MN1</text>
<path d="M579.3 25.0l3 3l3-3" stroke="#333" stroke-width="1.1" fill="none"/>
<path d="M622.5 19.8q-3-1-3.6 2.4l-1.7 9.6q-0.5 2.6-2.6 1.8M616.5 24.5h5" stroke="#222" stroke-width="1.3" fill="none"/>
<path d="M621 30.6h4M623 28.6v4" stroke="#19cfa3" stroke-width="1.2"/>
<text x="631.0" y="29.9" font-size="10.5" fill="#222" font-weight="normal" text-anchor="start" textLength="50.7" lengthAdjust="spacingAndGlyphs" >Indicators</text>
<path d="M686.3 25.3l3 3l3-3" stroke="#333" stroke-width="1.1" fill="none"/>
<text x="706.7" y="29.9" font-size="10.5" fill="#222" font-weight="normal" text-anchor="start" textLength="16.6" lengthAdjust="spacingAndGlyphs" >MA</text>
<text x="736.0" y="29.9" font-size="10.5" fill="#222" font-weight="normal" text-anchor="start" textLength="44.0" lengthAdjust="spacingAndGlyphs" >Bollinger</text>
<text x="792.7" y="29.9" font-size="10.5" fill="#222" font-weight="normal" text-anchor="start" textLength="32.3" lengthAdjust="spacingAndGlyphs" >MACD</text>
<text x="837.3" y="29.9" font-size="10.5" fill="#222" font-weight="normal" text-anchor="start" textLength="16.7" lengthAdjust="spacingAndGlyphs" >RSI</text>
<text x="866.7" y="29.9" font-size="10.5" fill="#222" font-weight="normal" text-anchor="start" textLength="19.3" lengthAdjust="spacingAndGlyphs" >ATR</text>
<text x="899.0" y="29.9" font-size="10.5" fill="#222" font-weight="normal" text-anchor="start" textLength="29.3" lengthAdjust="spacingAndGlyphs" >Stoch</text>
<text x="940.7" y="29.9" font-size="10.5" fill="#222" font-weight="normal" text-anchor="start" textLength="19.3" lengthAdjust="spacingAndGlyphs" >MFI</text>
<text x="972.3" y="29.9" font-size="10.5" fill="#222" font-weight="normal" text-anchor="start" textLength="43.0" lengthAdjust="spacingAndGlyphs" >Volumes</text>
<rect x="1039" y="19.5" width="12.9" height="12.9" rx="2" fill="none" stroke="#222" stroke-width="1.4"/><path d="M1039 25.9h12.9" stroke="#222" stroke-width="1.4"/><path d="M1042.3 22.9h6.3M1042.3 29.3h6.3" stroke="#19cfa3" stroke-width="1.2"/>
<path d="M1077.7 30.6h11.6M1079.3 30.6v-5.4a4.2 4.2 0 0 1 8.4 0v5.4M1083.5 19v1.6M1081.8 32.6q1.7 1.4 3.4 0" stroke="#222" stroke-width="1.4" fill="none"/>
<path d="M1086.3 24.3h4.4M1088.5 22.1v4.4" stroke="#19cfa3" stroke-width="1.2"/>
<path d="M1123 32.8h-7.5q-2 0-2-2v-8.9q0-2 2-2h11q2 0 2 2v5M1113.5 24.5h15M1117.8 18.4v3.2M1124.8 18.4v3.2" stroke="#222" stroke-width="1.4" fill="none"/>
<path d="M1128.6 30.5h-6.6M1124.2 28.2l-2.4 2.3l2.4 2.3" stroke="#19cfa3" stroke-width="1.2" fill="none"/>
<path d="M1154.6 23h5.6a4.4 4.4 0 0 1 0 8.8h-3.2M1157.6 19.8l-3.2 3.2l3.2 3.2" stroke="#222" stroke-width="1.4" fill="none"/>
<path d="M1188.4 23h-5.6a4.4 4.4 0 0 0 0 8.8h3.2M1185.4 19.8l3.2 3.2l-3.2 3.2" stroke="#cfcfcf" stroke-width="1.4" fill="none"/>
<path d="M1219.2 22.3A6.9 6.9 0 1 1 1217.6 28" stroke="#222" stroke-width="1.4" fill="none"/><path d="M1218 19.2v3.8h3.8" stroke="#222" stroke-width="1.4" fill="none"/><circle cx="1224.6" cy="26.9" r="2.1" fill="none" stroke="#19cfa3" stroke-width="1.3"/>
<text x="1236.0" y="30.3" font-size="10.8" fill="#222" font-weight="normal" text-anchor="start" textLength="32.0" lengthAdjust="spacingAndGlyphs" >Replay</text>
<circle cx="1300" cy="27" r="4.5" fill="none" stroke="#bbb" stroke-width="1.2"/>
<text x="1310.0" y="30.3" font-size="10.8" fill="#bbb" font-weight="normal" text-anchor="start" textLength="56.0" lengthAdjust="spacingAndGlyphs" >New Order</text>
<path d="M1858.6 20.6h-2.2q-1.8 0-1.8 1.8v7.6q0 1.8 1.8 1.8h7.6q1.8 0 1.8-1.8v-2.2" stroke="#222" stroke-width="1.4" fill="none"/><path d="M1860 26.4l6-6M1862 20.2h4.2v4.2" stroke="#19cfa3" stroke-width="1.3" fill="none"/>
<rect x="1890.5" y="21.4" width="14.8" height="9.9" rx="1.8" fill="none" stroke="#222" stroke-width="1.4"/><path d="M1901.6 23.4v5.9M1899 26.35h-5.4M1895.6 24.3l-2.1 2.05l2.1 2.05" stroke="#222" stroke-width="1.3" fill="none"/>
<path d="M1829 28.6h3q1.4 0 1.4-1.4v-1" stroke="#222" stroke-width="1.3" fill="none"/><path d="M1825.6 32v-3q1.4-1.6 2.6 0v3" stroke="#19cfa3" stroke-width="1" fill="none"/>
<path d="M16.3 67.5h15.2M23.9 59.9v15.2" stroke="#35d8b2" stroke-width="1.3" fill="none"/>
<path d="M16 98.3h16" stroke="#222" stroke-width="1.4" fill="none" stroke-linecap="round" stroke-linejoin="round"/>
<path d="M16 122.8h16M16 125.8h16M16 129.2h16M16 136h16" stroke="#222" stroke-width="1.3" fill="none"/><path d="M17 133.6l14-1.8" stroke="#222" stroke-width="1.3" stroke-dasharray="2 1.4" fill="none"/>
<path d="M13.6 167l3.3-9l3 5.5l4.1-12l3.5 12l3.9-6l3 9.5" stroke="#222" stroke-width="1.3" fill="none" stroke-linejoin="miter"/><path d="M15 163.5h3M22.5 163.5h3M30 163.5h3" stroke="#222" stroke-width="1" stroke-dasharray="1.5 1" fill="none"/>
<path d="M20.4 183.5h13.4M14.2 198.3h13.4M19.4 194.2q6.6 0 8-6" stroke="#222" stroke-width="1.4" fill="none" stroke-linecap="round" stroke-linejoin="round"/><path d="M25 189.6l2.6-2.8l2 3.3z" fill="#222"/>
<path d="M12.8 226.8l8.2-6.4l4.9 5.6l8.6-9.2M30.2 216.2l4.6 0.1l-0.2 4.6" stroke="#222" stroke-width="1.4" fill="none" stroke-linecap="round" stroke-linejoin="round"/>
<path d="M15.1 245.6h15.4M22.7 245.6v15M20.2 260.6h5.2" stroke="#222" stroke-width="1.5" fill="none"/><path d="M28 256.6h4.8M28 258.6h4.8M28 260.6h4.8" stroke="#222" stroke-width="1.1" fill="none"/>
<rect x="15.5" y="275.2" width="16.5" height="16.3" rx="3.2" stroke="#222" stroke-width="1.4" fill="none" stroke-linecap="round" stroke-linejoin="round"/><path d="M20 281.8q0.2 4.6 3.8 4.6t3.8-4.6" stroke="#222" stroke-width="1.4" fill="none" stroke-linecap="round" stroke-linejoin="round"/>
<line x1="11.6" x2="35" y1="306.5" y2="306.5" stroke="#ececec"/>
<g transform="rotate(47.5 24.2 327.3)"><rect x="13.7" y="323.2" width="21" height="8.2" rx="1.8" stroke="#222" stroke-width="1.4" fill="none" stroke-linecap="round" stroke-linejoin="round"/><path d="M18 323.4v3M21.5 323.4v3.8M25 323.4v3M28.5 323.4v3.8" stroke="#222" stroke-width="1.1" fill="none"/></g>
<circle cx="23.9" cy="357.4" r="8.4" stroke="#222" stroke-width="1.4" fill="none" stroke-linecap="round" stroke-linejoin="round"/><path d="M20.7 357.4h6.4M23.9 354.2v6.4" stroke="#222" stroke-width="1.3"/><path d="M30 363.6l2.6 2.5" stroke="#222" stroke-width="1.4" fill="none" stroke-linecap="round" stroke-linejoin="round"/>
<line x1="11.6" x2="35" y1="378.4" y2="378.4" stroke="#ececec"/>
<g transform="rotate(45 24 398.5)"><path d="M15.5 391v6.5a8.5 8.5 0 0 0 17 0v-6.5h-5.2v6.5a3.3 3.3 0 0 1-6.6 0v-6.5z M15.5 394.2h5.2M27.3 394.2h5.2" stroke="#222" stroke-width="1.4" fill="none" stroke-linecap="round" stroke-linejoin="round"/></g>
<path d="M29.6 421.6q1.4 0.6 0.6 2.2l-7.4 9.2l-3.6-2.6l8.3-8.6q1.1-0.8 2.1-0.2zM19.2 430.4q-3 0.2-3.6 3.2q-0.6 1.8-2 2.2q3.6 1.6 6.8-0.2q2.4-1.6 2.4-2.6" stroke="#222" stroke-width="1.4" fill="none" stroke-linecap="round" stroke-linejoin="round"/>
<rect x="25.8" y="432.8" width="7.8" height="5.4" rx="1.2" fill="#fff" stroke="#222" stroke-width="1.2"/><path d="M27.4 432.8v-1.2a2.3 2.3 0 0 1 4.4-0.9M29.7 434.8v1.6" stroke="#222" stroke-width="1.1" fill="none"/>
<rect x="16.3" y="459.8" width="15.4" height="9.8" rx="2" stroke="#222" stroke-width="1.4" fill="none" stroke-linecap="round" stroke-linejoin="round"/><path d="M18.8 459.8v-2a5 5 0 0 1 9.7-1.7" stroke="#222" stroke-width="1.4" fill="none" stroke-linecap="round" stroke-linejoin="round"/><path d="M22.3 463h3.4M24 463v3.2" stroke="#222" stroke-width="1.2" fill="none"/>
<circle cx="23.9" cy="491.3" r="7.6" stroke="#222" stroke-width="1.4" fill="none" stroke-linecap="round" stroke-linejoin="round"/><path d="M16.9 494.2q-4 3.6-1.8 4.6q3 1.2 10.6-2.8t8.2-7.2q0.2-1.8-3.4-1" stroke="#222" stroke-width="1.4" fill="none" stroke-linecap="round" stroke-linejoin="round"/>
<path d="M14.4 522.2C17 516.2 21 515.4 23.9 515.4C26.8 515.4 30.8 516.2 33.4 522.2C30.8 528.2 26.8 529 23.9 529C21 529 17 528.2 14.4 522.2Z" stroke="#222" stroke-width="1.4" fill="none" stroke-linecap="round" stroke-linejoin="round"/><circle cx="23.9" cy="522.2" r="3.5" stroke="#222" stroke-width="1.4" fill="none" stroke-linecap="round" stroke-linejoin="round"/>
<line x1="11.6" x2="35" y1="543" y2="543" stroke="#ececec"/>
<path d="M16 557.4h16M20.6 557.4v-2q0-1 1-1h4.8q1 0 1 1v2M17.8 557.4v11.4q0 2 2 2h8.4q2 0 2-2v-11.4M21.8 561v6.4M26.2 561v6.4" stroke="#222" stroke-width="1.4" fill="none" stroke-linecap="round" stroke-linejoin="round"/>
<path d="M1252.5 0H1833V24.7Q1833 28.7 1829 28.7H1256.5Q1252.5 28.7 1252.5 24.7Z" fill="#fff" filter="url(#sh2)"/>
<circle cx="1263" cy="9.4" r="0.9" fill="#c9c9d6"/>
<circle cx="1263" cy="13.8" r="0.9" fill="#c9c9d6"/>
<circle cx="1263" cy="18.4" r="0.9" fill="#c9c9d6"/>
<circle cx="1268.8" cy="9.4" r="0.9" fill="#c9c9d6"/>
<circle cx="1268.8" cy="13.8" r="0.9" fill="#c9c9d6"/>
<circle cx="1268.8" cy="18.4" r="0.9" fill="#c9c9d6"/>
<path d="M1283.6 13.8h16.4" stroke="#222" stroke-width="1.4" fill="none" stroke-linecap="round" stroke-linejoin="round"/>
<path d="M1323 4.7v18" stroke="#222" stroke-width="1.4" fill="none" stroke-linecap="round" stroke-linejoin="round"/>
<path d="M1347.2 20.3l13-13.3" stroke="#222" stroke-width="1.4" fill="none" stroke-linecap="round" stroke-linejoin="round"/>
<rect x="1376.3" y="7.3" width="16.2" height="13" rx="1.5" stroke="#222" stroke-width="1.4" fill="none" stroke-linecap="round" stroke-linejoin="round"/>
<path d="M1422 6.4q1.6 0.6 0.8 2.2l-7.2 9.4l-3.8-2.8l8-8.4q1.1-0.9 2.2-0.4zM1411.6 15.4q-3.2 0.2-3.8 3.2q-0.5 1.8-2 2.2q3.8 1.6 7-0.2q2.4-1.6 2.4-2.6" stroke="#222" stroke-width="1.4" fill="none" stroke-linecap="round" stroke-linejoin="round"/>
<path d="M1437.5 7.5h17.2M1437.5 10.6h17.2M1437.5 13.8h17.2M1437.5 20.3h17.2" stroke="#222" stroke-width="1.3" fill="none"/><path d="M1438.5 18.4l15-2.6" stroke="#222" stroke-width="1.2" stroke-dasharray="2 1.3" fill="none"/>
<path d="M1469.5 15.6h15.5M1469.5 18.8h15.5M1469.5 21.9h15.5" stroke="#222" stroke-width="1.3" fill="none"/><path d="M1469.8 13.8v-4.5q0-2 2-2.5l8-1.8" stroke="#222" stroke-width="1.2" stroke-dasharray="2.2 1.5" fill="none"/>
<path d="M1499.2 6.8h14.8M1506.6 6.8v14.2M1504 21h5.2" stroke="#222" stroke-width="1.5" fill="none"/><path d="M1512.3 17h4.6M1512.3 19h4.6M1512.3 21h4.6" stroke="#222" stroke-width="1.1" fill="none"/>
<path d="M1529.7 7.5h17.3M1529.7 15.6h17.3M1529.7 20.3h17.3" stroke="#222" stroke-width="1.3" fill="none"/><path d="M1531 14l15-4.6" stroke="#222" stroke-width="1.2" stroke-dasharray="2 1.3" fill="none"/>
<path d="M1560.5 7.5h17.3M1560.5 12.2h17.3M1560.5 20.3h17.3" stroke="#222" stroke-width="1.3" fill="none"/><path d="M1562 13.8l15 4.6" stroke="#222" stroke-width="1.2" stroke-dasharray="2 1.3" fill="none"/>
<path d="M1592.5 20.8l11.5-10.8" stroke="#222" stroke-width="1.4" fill="none" stroke-linecap="round" stroke-linejoin="round"/><path d="M1607.5 6.7l-2.2 8l-5.8-5.8z" fill="#222"/>
<path d="M1620.2 18.8l7.9-6.9l4.9 4.9l9.4-8.4M1638 8.2l4.6 0.1l-0.2 4.6" stroke="#222" stroke-width="1.4" fill="none" stroke-linecap="round" stroke-linejoin="round"/>
<circle cx="1661.8" cy="13.5" r="8.8" stroke="#222" stroke-width="1.4" fill="none" stroke-linecap="round" stroke-linejoin="round"/>
<path d="M1683.4 13.9h18.6M1683.4 11.8v4.2" stroke="#222" stroke-width="1.4" fill="none" stroke-linecap="round" stroke-linejoin="round"/>
<path d="M1714.7 15.4l15-7.9M1717.2 20.2l14.8-7.9" stroke="#222" stroke-width="1.4" fill="none" stroke-linecap="round" stroke-linejoin="round"/>
<path d="M1744 20.8l3.3-9l3 5.5l4.1-11.5l3.5 11.5l3.9-6l3 9.5" stroke="#222" stroke-width="1.3" fill="none"/><path d="M1745.5 17.3h3M1753 17.3h3M1760.5 17.3h3" stroke="#222" stroke-width="1" stroke-dasharray="1.5 1" fill="none"/>
<path d="M1778.6 6.9h13.3q2 0 2 2v7.3q0 2-2 2h-7.5l-3.6 3.6v-3.6h-2.2q-2 0-2-2v-7.3q0-2 2-2z" stroke="#222" stroke-width="1.4" fill="none" stroke-linecap="round" stroke-linejoin="round"/>
<text x="1785.2" y="15.8" font-size="8.5" fill="#222" font-weight="bold" text-anchor="middle" >$</text>
<rect x="1807.3" y="6.9" width="17.7" height="11.3" rx="2" stroke="#222" stroke-width="1.4" fill="none" stroke-linecap="round" stroke-linejoin="round"/><path d="M1816.1 18.2v4" stroke="#222" stroke-width="1.4" fill="none" stroke-linecap="round" stroke-linejoin="round"/>
<text x="1816.1" y="15.8" font-size="8.5" fill="#222" font-weight="bold" text-anchor="middle" >$</text>
</svg>
</body></html>
